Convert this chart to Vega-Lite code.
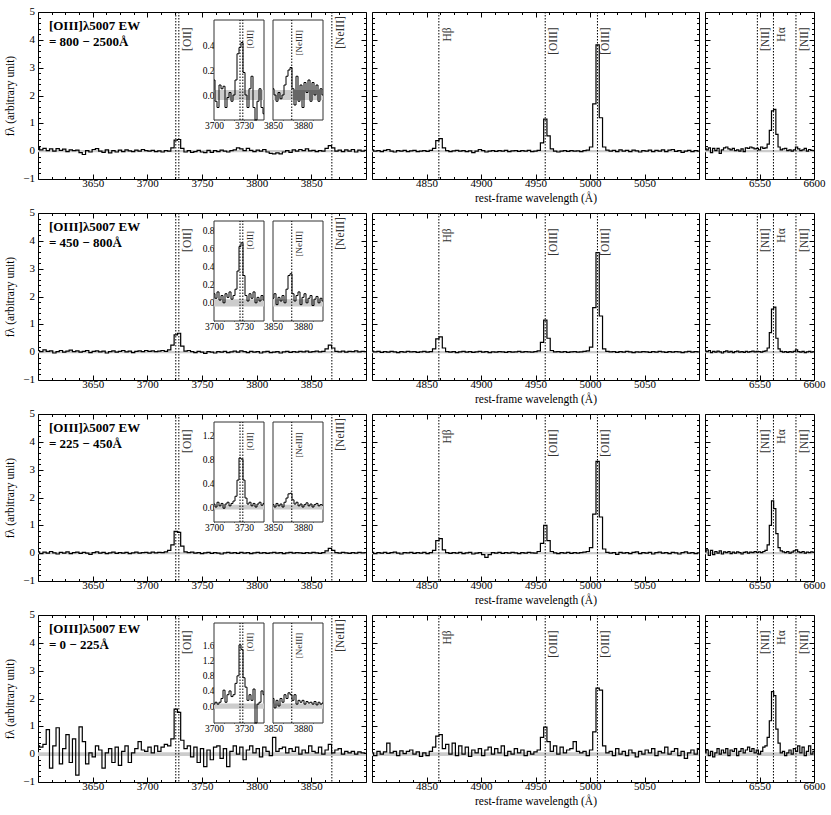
{
"$schema":"https://vega.github.io/schema/vega-lite/v6.json",
"background":"white",
"padding":{"left":4,"top":5,"right":2,"bottom":2},
"config":{"font":"Liberation Serif","view":{"stroke":"black","strokeWidth":1},
"axis":{"zindex":1,"grid":false,"domain":false,"tickColor":"black","labelFont":"Liberation Serif","labelFontSize":11,"labelColor":"black","labelPadding":3,"labelFlush":false,"labelOverlap":false,"titleFont":"Liberation Serif","titleFontSize":11.5,"titleFontWeight":"normal","titleColor":"black"}},
"datasets":{
"yl":[{"v":-1,"t":"−1"},{"v":0,"t":"0"},{"v":1,"t":"1"},{"v":2,"t":"2"},{"v":3,"t":"3"},{"v":4,"t":"4"},{"v":5,"t":"5"}],
"rl":[{"w":3726.03},{"w":3728.82},{"w":3868.76},{"w":4861.33},{"w":4958.91},{"w":5006.84},{"w":6548.05},{"w":6562.8},{"w":6583.45}],
"lb":[{"w":3728.82,"n":"[OII]"},{"w":3868.76,"n":"[NeIII]"},{"w":4861.33,"n":"Hβ"},{"w":4958.91,"n":"[OIII]"},{"w":5006.84,"n":"[OIII]"},{"w":6548.05,"n":"[NII]"},{"w":6562.8,"n":"Hα"},{"w":6583.45,"n":"[NII]"}],
"m1":[{"w":3600,"f":0.14},{"w":3603,"f":0.05},{"w":3606,"f":0.1},{"w":3609,"f":0.02},{"w":3612,"f":0.08},{"w":3615,"f":0},{"w":3618,"f":0.09},{"w":3621,"f":0.03},{"w":3624,"f":0.07},{"w":3627,"f":-0.02},{"w":3630,"f":0.05},{"w":3633,"f":0.02},{"w":3636,"f":0.04},{"w":3639,"f":-0.05},{"w":3642,"f":-0.12},{"w":3645,"f":0.02},{"w":3648,"f":-0.03},{"w":3651,"f":0.06},{"w":3654,"f":0.09},{"w":3657,"f":0},{"w":3660,"f":-0.04},{"w":3663,"f":0.05},{"w":3666,"f":-0.06},{"w":3669,"f":0.02},{"w":3672,"f":-0.03},{"w":3675,"f":0.04},{"w":3678,"f":-0.02},{"w":3681,"f":0.05},{"w":3684,"f":0.01},{"w":3687,"f":-0.02},{"w":3690,"f":0.04},{"w":3693,"f":0},{"w":3696,"f":0.06},{"w":3699,"f":0.02},{"w":3702,"f":0},{"w":3705,"f":0.03},{"w":3708,"f":-0.02},{"w":3711,"f":0.01},{"w":3714,"f":-0.03},{"w":3717,"f":0.02},{"w":3720,"f":0},{"w":3723,"f":0.12},{"w":3726,"f":0.4},{"w":3729,"f":0.42},{"w":3732,"f":0.1},{"w":3735,"f":-0.03},{"w":3738,"f":0.02},{"w":3741,"f":-0.04},{"w":3744,"f":-0.02},{"w":3747,"f":0.03},{"w":3750,"f":-0.03},{"w":3753,"f":-0.05},{"w":3756,"f":0.03},{"w":3759,"f":-0.04},{"w":3762,"f":0.02},{"w":3765,"f":-0.02},{"w":3768,"f":0.04},{"w":3771,"f":0},{"w":3774,"f":-0.03},{"w":3777,"f":0.02},{"w":3780,"f":0.05},{"w":3783,"f":0.12},{"w":3786,"f":0.08},{"w":3789,"f":0.02},{"w":3792,"f":0.1},{"w":3795,"f":0.03},{"w":3798,"f":-0.02},{"w":3801,"f":0.04},{"w":3804,"f":0},{"w":3807,"f":0.06},{"w":3810,"f":-0.03},{"w":3813,"f":-0.08},{"w":3816,"f":-0.1},{"w":3819,"f":-0.06},{"w":3822,"f":-0.1},{"w":3825,"f":-0.03},{"w":3828,"f":0.02},{"w":3831,"f":-0.04},{"w":3834,"f":0.05},{"w":3837,"f":0},{"w":3840,"f":0.06},{"w":3843,"f":0.02},{"w":3846,"f":0.08},{"w":3849,"f":0.01},{"w":3852,"f":0.03},{"w":3855,"f":-0.02},{"w":3858,"f":0.02},{"w":3861,"f":0},{"w":3864,"f":0.1},{"w":3867,"f":0.2},{"w":3870,"f":0.12},{"w":3873,"f":0},{"w":3876,"f":0.04},{"w":3879,"f":-0.02},{"w":3882,"f":0.05},{"w":3885,"f":0},{"w":3888,"f":0.06},{"w":3891,"f":-0.03},{"w":3894,"f":0.04},{"w":3897,"f":0},{"w":3900,"f":0.03},
{"w":4800,"f":0.05},{"w":4803,"f":0},{"w":4806,"f":0.02},{"w":4809,"f":-0.02},{"w":4812,"f":0.03},{"w":4815,"f":0.06},{"w":4818,"f":0},{"w":4821,"f":-0.03},{"w":4824,"f":0.02},{"w":4827,"f":0},{"w":4830,"f":0.03},{"w":4833,"f":-0.02},{"w":4836,"f":0.01},{"w":4839,"f":0.03},{"w":4842,"f":-0.02},{"w":4845,"f":0},{"w":4848,"f":0.02},{"w":4851,"f":-0.01},{"w":4854,"f":0.03},{"w":4857,"f":0.1},{"w":4860,"f":0.38},{"w":4863,"f":0.45},{"w":4866,"f":0.12},{"w":4869,"f":0.02},{"w":4872,"f":-0.02},{"w":4875,"f":0.01},{"w":4878,"f":0.03},{"w":4881,"f":0},{"w":4884,"f":0.02},{"w":4887,"f":-0.02},{"w":4890,"f":0.01},{"w":4893,"f":-0.05},{"w":4896,"f":0},{"w":4899,"f":0.06},{"w":4902,"f":0.02},{"w":4905,"f":-0.03},{"w":4908,"f":0},{"w":4911,"f":0.02},{"w":4914,"f":-0.01},{"w":4917,"f":0.02},{"w":4920,"f":0},{"w":4923,"f":0.03},{"w":4926,"f":-0.02},{"w":4929,"f":0.01},{"w":4932,"f":0.02},{"w":4935,"f":-0.01},{"w":4938,"f":0.02},{"w":4941,"f":0},{"w":4944,"f":0.03},{"w":4947,"f":-0.02},{"w":4950,"f":0},{"w":4953,"f":0.03},{"w":4956,"f":0.3},{"w":4959,"f":1.15},{"w":4962,"f":0.55},{"w":4965,"f":0.08},{"w":4968,"f":0},{"w":4971,"f":-0.03},{"w":4974,"f":0},{"w":4977,"f":0.02},{"w":4980,"f":-0.01},{"w":4983,"f":0.02},{"w":4986,"f":0},{"w":4989,"f":0.01},{"w":4992,"f":-0.02},{"w":4995,"f":0.02},{"w":4998,"f":0.04},{"w":5001,"f":0.15},{"w":5004,"f":1.7},{"w":5007,"f":3.82},{"w":5010,"f":1.2},{"w":5013,"f":0.15},{"w":5016,"f":0.04},{"w":5019,"f":0},{"w":5022,"f":0.03},{"w":5025,"f":-0.02},{"w":5028,"f":0.05},{"w":5031,"f":0},{"w":5034,"f":0.03},{"w":5037,"f":-0.02},{"w":5040,"f":0.04},{"w":5043,"f":0.01},{"w":5046,"f":-0.03},{"w":5049,"f":0.02},{"w":5052,"f":0},{"w":5055,"f":0.04},{"w":5058,"f":-0.02},{"w":5061,"f":0.03},{"w":5064,"f":0},{"w":5067,"f":0.05},{"w":5070,"f":-0.02},{"w":5073,"f":0.04},{"w":5076,"f":0.06},{"w":5079,"f":-0.01},{"w":5082,"f":0.02},{"w":5085,"f":-0.04},{"w":5088,"f":0},{"w":5091,"f":0.03},{"w":5094,"f":-0.02},{"w":5097,"f":0.02},{"w":5100,"f":0},
{"w":6500,"f":0.1},{"w":6502,"f":0.05},{"w":6504,"f":0.12},{"w":6506,"f":-0.05},{"w":6508,"f":0.1},{"w":6510,"f":0.02},{"w":6512,"f":0.1},{"w":6514,"f":-0.08},{"w":6516,"f":0.05},{"w":6518,"f":0.12},{"w":6520,"f":0.15},{"w":6522,"f":0.08},{"w":6524,"f":0.05},{"w":6526,"f":0.1},{"w":6528,"f":0.02},{"w":6530,"f":0.05},{"w":6532,"f":0},{"w":6534,"f":0.08},{"w":6536,"f":-0.02},{"w":6538,"f":0.12},{"w":6540,"f":0.1},{"w":6542,"f":0.15},{"w":6544,"f":0.12},{"w":6546,"f":0.08},{"w":6548,"f":0.1},{"w":6550,"f":0.05},{"w":6552,"f":0.15},{"w":6554,"f":0.1},{"w":6556,"f":0.12},{"w":6558,"f":0.25},{"w":6560,"f":0.75},{"w":6562,"f":1.45},{"w":6564,"f":1.5},{"w":6566,"f":0.6},{"w":6568,"f":0.15},{"w":6570,"f":0.05},{"w":6572,"f":0.08},{"w":6574,"f":0.1},{"w":6576,"f":0.02},{"w":6578,"f":0.05},{"w":6580,"f":0},{"w":6582,"f":0.05},{"w":6584,"f":0.15},{"w":6586,"f":0.08},{"w":6588,"f":0.02},{"w":6590,"f":0.05},{"w":6592,"f":0.1},{"w":6594,"f":0},{"w":6596,"f":0.06},{"w":6598,"f":0.03},{"w":6600,"f":0.02}],
"i1":[{"w":3700,"f":0.12},{"w":3702,"f":-0.05},{"w":3704,"f":-0.1},{"w":3706,"f":0.08},{"w":3708,"f":0.05},{"w":3710,"f":0.07},{"w":3712,"f":-0.1},{"w":3714,"f":-0.02},{"w":3716,"f":0.02},{"w":3718,"f":-0.05},{"w":3720,"f":0},{"w":3722,"f":0.12},{"w":3724,"f":0.33},{"w":3726,"f":0.38},{"w":3728,"f":0.42},{"w":3730,"f":0.18},{"w":3732,"f":0},{"w":3734,"f":-0.1},{"w":3736,"f":0.05},{"w":3738,"f":0.15},{"w":3740,"f":-0.1},{"w":3742,"f":-0.2},{"w":3744,"f":-0.05},{"w":3746,"f":0.05},{"w":3748,"f":-0.1},{"w":3750,"f":-0.15},
{"w":3850,"f":0.05},{"w":3852,"f":0},{"w":3854,"f":-0.05},{"w":3856,"f":0.02},{"w":3858,"f":-0.03},{"w":3860,"f":0},{"w":3862,"f":0.08},{"w":3864,"f":0.15},{"w":3866,"f":0.2},{"w":3868,"f":0.22},{"w":3870,"f":0.05},{"w":3872,"f":-0.08},{"w":3874,"f":0.15},{"w":3876,"f":-0.05},{"w":3878,"f":0.08},{"w":3880,"f":-0.1},{"w":3882,"f":0.1},{"w":3884,"f":0.02},{"w":3886,"f":0.12},{"w":3888,"f":-0.05},{"w":3890,"f":0.1},{"w":3892,"f":0},{"w":3894,"f":0.08},{"w":3896,"f":-0.05},{"w":3898,"f":0.05},{"w":3900,"f":0}],
"m2":[{"w":3600,"f":0.06},{"w":3603,"f":0.02},{"w":3606,"f":0.08},{"w":3609,"f":0.03},{"w":3612,"f":0.05},{"w":3615,"f":-0.03},{"w":3618,"f":0.02},{"w":3621,"f":0.06},{"w":3624,"f":0},{"w":3627,"f":0.04},{"w":3630,"f":0.07},{"w":3633,"f":0.02},{"w":3636,"f":0.05},{"w":3639,"f":0},{"w":3642,"f":0.03},{"w":3645,"f":0.06},{"w":3648,"f":-0.02},{"w":3651,"f":0.03},{"w":3654,"f":0.05},{"w":3657,"f":0.01},{"w":3660,"f":0.04},{"w":3663,"f":-0.03},{"w":3666,"f":0.02},{"w":3669,"f":0.05},{"w":3672,"f":0},{"w":3675,"f":0.03},{"w":3678,"f":0.06},{"w":3681,"f":0.01},{"w":3684,"f":0.04},{"w":3687,"f":-0.02},{"w":3690,"f":0.03},{"w":3693,"f":0.05},{"w":3696,"f":0.02},{"w":3699,"f":0.06},{"w":3702,"f":0.03},{"w":3705,"f":0.05},{"w":3708,"f":0.02},{"w":3711,"f":0.04},{"w":3714,"f":0.06},{"w":3717,"f":0.03},{"w":3720,"f":0.08},{"w":3723,"f":0.25},{"w":3726,"f":0.62},{"w":3729,"f":0.68},{"w":3732,"f":0.22},{"w":3735,"f":0.04},{"w":3738,"f":0.06},{"w":3741,"f":0.02},{"w":3744,"f":-0.02},{"w":3747,"f":0.03},{"w":3750,"f":0},{"w":3753,"f":-0.04},{"w":3756,"f":0.02},{"w":3759,"f":0},{"w":3762,"f":-0.03},{"w":3765,"f":0.02},{"w":3768,"f":0},{"w":3771,"f":0.03},{"w":3774,"f":-0.02},{"w":3777,"f":0.01},{"w":3780,"f":0.04},{"w":3783,"f":0},{"w":3786,"f":0.05},{"w":3789,"f":0.02},{"w":3792,"f":-0.02},{"w":3795,"f":0.03},{"w":3798,"f":0},{"w":3801,"f":0.02},{"w":3804,"f":-0.03},{"w":3807,"f":0.01},{"w":3810,"f":0.03},{"w":3813,"f":-0.02},{"w":3816,"f":0},{"w":3819,"f":0.02},{"w":3822,"f":-0.03},{"w":3825,"f":0.01},{"w":3828,"f":0.03},{"w":3831,"f":-0.01},{"w":3834,"f":0.02},{"w":3837,"f":0},{"w":3840,"f":0.03},{"w":3843,"f":0.01},{"w":3846,"f":0.04},{"w":3849,"f":0},{"w":3852,"f":0.02},{"w":3855,"f":0.04},{"w":3858,"f":0.01},{"w":3861,"f":0.03},{"w":3864,"f":0.12},{"w":3867,"f":0.25},{"w":3870,"f":0.15},{"w":3873,"f":0.03},{"w":3876,"f":0.01},{"w":3879,"f":0.04},{"w":3882,"f":0},{"w":3885,"f":0.03},{"w":3888,"f":0.02},{"w":3891,"f":0.05},{"w":3894,"f":0.01},{"w":3897,"f":0.03},{"w":3900,"f":0.02},
{"w":4800,"f":0.04},{"w":4803,"f":0.01},{"w":4806,"f":0.03},{"w":4809,"f":-0.01},{"w":4812,"f":0.02},{"w":4815,"f":0},{"w":4818,"f":0.03},{"w":4821,"f":0.01},{"w":4824,"f":-0.02},{"w":4827,"f":0.02},{"w":4830,"f":0},{"w":4833,"f":0.03},{"w":4836,"f":0.01},{"w":4839,"f":0.02},{"w":4842,"f":-0.01},{"w":4845,"f":0.01},{"w":4848,"f":0.03},{"w":4851,"f":0},{"w":4854,"f":0.02},{"w":4857,"f":0.12},{"w":4860,"f":0.48},{"w":4863,"f":0.55},{"w":4866,"f":0.15},{"w":4869,"f":0.02},{"w":4872,"f":0},{"w":4875,"f":0.02},{"w":4878,"f":-0.02},{"w":4881,"f":0.01},{"w":4884,"f":0.03},{"w":4887,"f":0},{"w":4890,"f":0.02},{"w":4893,"f":-0.01},{"w":4896,"f":0.01},{"w":4899,"f":0.03},{"w":4902,"f":0},{"w":4905,"f":0.02},{"w":4908,"f":-0.02},{"w":4911,"f":0.01},{"w":4914,"f":0},{"w":4917,"f":0.02},{"w":4920,"f":0.01},{"w":4923,"f":-0.01},{"w":4926,"f":0.02},{"w":4929,"f":0},{"w":4932,"f":0.01},{"w":4935,"f":0.03},{"w":4938,"f":0},{"w":4941,"f":0.02},{"w":4944,"f":0.01},{"w":4947,"f":0},{"w":4950,"f":0.02},{"w":4953,"f":0.05},{"w":4956,"f":0.35},{"w":4959,"f":1.15},{"w":4962,"f":0.5},{"w":4965,"f":0.06},{"w":4968,"f":0.01},{"w":4971,"f":0.02},{"w":4974,"f":0},{"w":4977,"f":0.02},{"w":4980,"f":-0.01},{"w":4983,"f":0.01},{"w":4986,"f":0.02},{"w":4989,"f":0},{"w":4992,"f":0.01},{"w":4995,"f":0.03},{"w":4998,"f":0.05},{"w":5001,"f":0.18},{"w":5004,"f":1.6},{"w":5007,"f":3.58},{"w":5010,"f":1.3},{"w":5013,"f":0.12},{"w":5016,"f":0.03},{"w":5019,"f":0.01},{"w":5022,"f":0.02},{"w":5025,"f":-0.01},{"w":5028,"f":0.02},{"w":5031,"f":0},{"w":5034,"f":0.03},{"w":5037,"f":0.01},{"w":5040,"f":-0.02},{"w":5043,"f":0.01},{"w":5046,"f":0},{"w":5049,"f":0.02},{"w":5052,"f":0.01},{"w":5055,"f":-0.01},{"w":5058,"f":0.02},{"w":5061,"f":0},{"w":5064,"f":0.03},{"w":5067,"f":0.01},{"w":5070,"f":-0.01},{"w":5073,"f":0.02},{"w":5076,"f":0},{"w":5079,"f":0.02},{"w":5082,"f":0.01},{"w":5085,"f":-0.02},{"w":5088,"f":0.01},{"w":5091,"f":0.03},{"w":5094,"f":0},{"w":5097,"f":0.02},{"w":5100,"f":0.01},
{"w":6500,"f":0.05},{"w":6502,"f":0.02},{"w":6504,"f":0.06},{"w":6506,"f":-0.02},{"w":6508,"f":0.03},{"w":6510,"f":0},{"w":6512,"f":0.04},{"w":6514,"f":0.01},{"w":6516,"f":-0.03},{"w":6518,"f":0.02},{"w":6520,"f":0.05},{"w":6522,"f":0},{"w":6524,"f":0.03},{"w":6526,"f":-0.02},{"w":6528,"f":0.02},{"w":6530,"f":0.04},{"w":6532,"f":0},{"w":6534,"f":0.02},{"w":6536,"f":-0.01},{"w":6538,"f":0.03},{"w":6540,"f":0},{"w":6542,"f":0.02},{"w":6544,"f":0.04},{"w":6546,"f":0.01},{"w":6548,"f":0.03},{"w":6550,"f":0.02},{"w":6552,"f":0},{"w":6554,"f":0.03},{"w":6556,"f":0.05},{"w":6558,"f":0.15},{"w":6560,"f":0.7},{"w":6562,"f":1.55},{"w":6564,"f":1.62},{"w":6566,"f":0.5},{"w":6568,"f":0.12},{"w":6570,"f":0.03},{"w":6572,"f":0},{"w":6574,"f":0.02},{"w":6576,"f":-0.01},{"w":6578,"f":0.02},{"w":6580,"f":0},{"w":6582,"f":0.03},{"w":6584,"f":0.08},{"w":6586,"f":0.02},{"w":6588,"f":0},{"w":6590,"f":0.03},{"w":6592,"f":-0.02},{"w":6594,"f":0.01},{"w":6596,"f":0.03},{"w":6598,"f":0},{"w":6600,"f":0.02}],
"i2":[{"w":3700,"f":0.1},{"w":3702,"f":0.05},{"w":3704,"f":0.12},{"w":3706,"f":0.03},{"w":3708,"f":0.08},{"w":3710,"f":0},{"w":3712,"f":0.1},{"w":3714,"f":0.06},{"w":3716,"f":0.12},{"w":3718,"f":0.04},{"w":3720,"f":0.08},{"w":3722,"f":0.15},{"w":3724,"f":0.35},{"w":3726,"f":0.62},{"w":3728,"f":0.66},{"w":3730,"f":0.3},{"w":3732,"f":0.08},{"w":3734,"f":0.02},{"w":3736,"f":0.1},{"w":3738,"f":0.05},{"w":3740,"f":0.12},{"w":3742,"f":0},{"w":3744,"f":0.06},{"w":3746,"f":0.02},{"w":3748,"f":0.08},{"w":3750,"f":0.03},
{"w":3850,"f":0.05},{"w":3852,"f":0.1},{"w":3854,"f":-0.02},{"w":3856,"f":0.06},{"w":3858,"f":0.02},{"w":3860,"f":0.08},{"w":3862,"f":0},{"w":3864,"f":0.15},{"w":3866,"f":0.3},{"w":3868,"f":0.32},{"w":3870,"f":0.1},{"w":3872,"f":0.02},{"w":3874,"f":0.08},{"w":3876,"f":0.12},{"w":3878,"f":-0.02},{"w":3880,"f":0.06},{"w":3882,"f":0.1},{"w":3884,"f":0},{"w":3886,"f":0.05},{"w":3888,"f":0.08},{"w":3890,"f":-0.03},{"w":3892,"f":0.04},{"w":3894,"f":0.07},{"w":3896,"f":0},{"w":3898,"f":0.05},{"w":3900,"f":0.02}],
"m3":[{"w":3600,"f":0.05},{"w":3603,"f":-0.02},{"w":3606,"f":0.04},{"w":3609,"f":0},{"w":3612,"f":0.06},{"w":3615,"f":0.01},{"w":3618,"f":-0.03},{"w":3621,"f":0.03},{"w":3624,"f":0},{"w":3627,"f":0.05},{"w":3630,"f":-0.02},{"w":3633,"f":0.02},{"w":3636,"f":0.04},{"w":3639,"f":-0.01},{"w":3642,"f":0.03},{"w":3645,"f":0},{"w":3648,"f":-0.04},{"w":3651,"f":0.02},{"w":3654,"f":0.05},{"w":3657,"f":0},{"w":3660,"f":0.03},{"w":3663,"f":-0.02},{"w":3666,"f":0.01},{"w":3669,"f":0.04},{"w":3672,"f":-0.01},{"w":3675,"f":0.02},{"w":3678,"f":0},{"w":3681,"f":0.03},{"w":3684,"f":-0.02},{"w":3687,"f":0.01},{"w":3690,"f":0.04},{"w":3693,"f":0},{"w":3696,"f":0.02},{"w":3699,"f":0.03},{"w":3702,"f":0},{"w":3705,"f":0.04},{"w":3708,"f":0.01},{"w":3711,"f":0.03},{"w":3714,"f":0.02},{"w":3717,"f":0.05},{"w":3720,"f":0.1},{"w":3723,"f":0.3},{"w":3726,"f":0.78},{"w":3729,"f":0.75},{"w":3732,"f":0.25},{"w":3735,"f":0.05},{"w":3738,"f":0.02},{"w":3741,"f":0.04},{"w":3744,"f":0},{"w":3747,"f":0.02},{"w":3750,"f":-0.02},{"w":3753,"f":0.01},{"w":3756,"f":0.03},{"w":3759,"f":-0.01},{"w":3762,"f":0.02},{"w":3765,"f":0},{"w":3768,"f":-0.03},{"w":3771,"f":0.01},{"w":3774,"f":0.03},{"w":3777,"f":0},{"w":3780,"f":0.02},{"w":3783,"f":-0.01},{"w":3786,"f":0.03},{"w":3789,"f":0},{"w":3792,"f":0.02},{"w":3795,"f":-0.02},{"w":3798,"f":0.01},{"w":3801,"f":0.03},{"w":3804,"f":0},{"w":3807,"f":0.02},{"w":3810,"f":-0.01},{"w":3813,"f":0.01},{"w":3816,"f":0.03},{"w":3819,"f":0},{"w":3822,"f":0.02},{"w":3825,"f":-0.02},{"w":3828,"f":0.01},{"w":3831,"f":0.03},{"w":3834,"f":0},{"w":3837,"f":0.02},{"w":3840,"f":0.01},{"w":3843,"f":-0.01},{"w":3846,"f":0.02},{"w":3849,"f":0},{"w":3852,"f":0.03},{"w":3855,"f":0.01},{"w":3858,"f":-0.01},{"w":3861,"f":0.02},{"w":3864,"f":0.08},{"w":3867,"f":0.17},{"w":3870,"f":0.1},{"w":3873,"f":0.02},{"w":3876,"f":0},{"w":3879,"f":0.03},{"w":3882,"f":0.01},{"w":3885,"f":-0.01},{"w":3888,"f":0.02},{"w":3891,"f":0},{"w":3894,"f":0.03},{"w":3897,"f":0.01},{"w":3900,"f":0.02},
{"w":4800,"f":0.03},{"w":4803,"f":-0.02},{"w":4806,"f":0.02},{"w":4809,"f":0},{"w":4812,"f":0.03},{"w":4815,"f":-0.01},{"w":4818,"f":0.02},{"w":4821,"f":0.04},{"w":4824,"f":0},{"w":4827,"f":-0.03},{"w":4830,"f":0.02},{"w":4833,"f":0.01},{"w":4836,"f":0.03},{"w":4839,"f":-0.01},{"w":4842,"f":0.02},{"w":4845,"f":0},{"w":4848,"f":0.03},{"w":4851,"f":-0.02},{"w":4854,"f":0.02},{"w":4857,"f":0.1},{"w":4860,"f":0.45},{"w":4863,"f":0.52},{"w":4866,"f":0.12},{"w":4869,"f":0.02},{"w":4872,"f":-0.01},{"w":4875,"f":0.02},{"w":4878,"f":0},{"w":4881,"f":0.03},{"w":4884,"f":-0.02},{"w":4887,"f":0.01},{"w":4890,"f":0.03},{"w":4893,"f":-0.03},{"w":4896,"f":0},{"w":4899,"f":0.02},{"w":4902,"f":-0.05},{"w":4905,"f":-0.15},{"w":4908,"f":-0.05},{"w":4911,"f":0.02},{"w":4914,"f":0},{"w":4917,"f":0.03},{"w":4920,"f":-0.01},{"w":4923,"f":0.02},{"w":4926,"f":0},{"w":4929,"f":0.03},{"w":4932,"f":0.01},{"w":4935,"f":-0.02},{"w":4938,"f":0.02},{"w":4941,"f":0},{"w":4944,"f":0.03},{"w":4947,"f":0.01},{"w":4950,"f":0},{"w":4953,"f":0.06},{"w":4956,"f":0.35},{"w":4959,"f":1},{"w":4962,"f":0.45},{"w":4965,"f":0.06},{"w":4968,"f":0.01},{"w":4971,"f":-0.02},{"w":4974,"f":0.02},{"w":4977,"f":0},{"w":4980,"f":0.03},{"w":4983,"f":-0.01},{"w":4986,"f":0.02},{"w":4989,"f":0},{"w":4992,"f":0.02},{"w":4995,"f":0.04},{"w":4998,"f":0.06},{"w":5001,"f":0.2},{"w":5004,"f":1.4},{"w":5007,"f":3.3},{"w":5010,"f":1.3},{"w":5013,"f":0.15},{"w":5016,"f":0.03},{"w":5019,"f":0},{"w":5022,"f":0.02},{"w":5025,"f":-0.04},{"w":5028,"f":0.03},{"w":5031,"f":0},{"w":5034,"f":0.02},{"w":5037,"f":-0.02},{"w":5040,"f":0.03},{"w":5043,"f":0.05},{"w":5046,"f":-0.02},{"w":5049,"f":0.02},{"w":5052,"f":0},{"w":5055,"f":0.03},{"w":5058,"f":-0.03},{"w":5061,"f":0.02},{"w":5064,"f":0.04},{"w":5067,"f":0},{"w":5070,"f":0.02},{"w":5073,"f":-0.02},{"w":5076,"f":0.03},{"w":5079,"f":0.01},{"w":5082,"f":-0.03},{"w":5085,"f":0.02},{"w":5088,"f":0.05},{"w":5091,"f":0},{"w":5094,"f":0.02},{"w":5097,"f":-0.02},{"w":5100,"f":0.01},
{"w":6500,"f":0.05},{"w":6502,"f":0.12},{"w":6504,"f":-0.08},{"w":6506,"f":0.1},{"w":6508,"f":-0.05},{"w":6510,"f":0.06},{"w":6512,"f":0},{"w":6514,"f":0.08},{"w":6516,"f":-0.03},{"w":6518,"f":0.05},{"w":6520,"f":0.02},{"w":6522,"f":0.06},{"w":6524,"f":-0.02},{"w":6526,"f":0.04},{"w":6528,"f":0},{"w":6530,"f":0.05},{"w":6532,"f":0.02},{"w":6534,"f":-0.03},{"w":6536,"f":0.03},{"w":6538,"f":0.05},{"w":6540,"f":0},{"w":6542,"f":0.04},{"w":6544,"f":0.02},{"w":6546,"f":0.06},{"w":6548,"f":0.03},{"w":6550,"f":0.05},{"w":6552,"f":0.02},{"w":6554,"f":0.06},{"w":6556,"f":0.1},{"w":6558,"f":0.3},{"w":6560,"f":1},{"w":6562,"f":1.88},{"w":6564,"f":1.6},{"w":6566,"f":0.7},{"w":6568,"f":0.2},{"w":6570,"f":0.08},{"w":6572,"f":0.05},{"w":6574,"f":0.02},{"w":6576,"f":0.06},{"w":6578,"f":0},{"w":6580,"f":0.04},{"w":6582,"f":0.08},{"w":6584,"f":0.12},{"w":6586,"f":0.05},{"w":6588,"f":0.02},{"w":6590,"f":0.06},{"w":6592,"f":0},{"w":6594,"f":0.04},{"w":6596,"f":0.02},{"w":6598,"f":0.05},{"w":6600,"f":0.03}],
"i3":[{"w":3700,"f":0.05},{"w":3702,"f":0},{"w":3704,"f":0.08},{"w":3706,"f":0.02},{"w":3708,"f":0.06},{"w":3710,"f":-0.02},{"w":3712,"f":0.05},{"w":3714,"f":0.08},{"w":3716,"f":0.02},{"w":3718,"f":0.06},{"w":3720,"f":0.1},{"w":3722,"f":0.18},{"w":3724,"f":0.45},{"w":3726,"f":0.82},{"w":3728,"f":0.8},{"w":3730,"f":0.45},{"w":3732,"f":0.15},{"w":3734,"f":0.05},{"w":3736,"f":0.08},{"w":3738,"f":0.02},{"w":3740,"f":0.06},{"w":3742,"f":0},{"w":3744,"f":0.05},{"w":3746,"f":0.08},{"w":3748,"f":0.03},{"w":3750,"f":0.06},
{"w":3850,"f":0.04},{"w":3852,"f":0},{"w":3854,"f":0.06},{"w":3856,"f":0.02},{"w":3858,"f":0.05},{"w":3860,"f":0},{"w":3862,"f":0.08},{"w":3864,"f":0.15},{"w":3866,"f":0.22},{"w":3868,"f":0.23},{"w":3870,"f":0.12},{"w":3872,"f":0.05},{"w":3874,"f":0.08},{"w":3876,"f":0.02},{"w":3878,"f":0.05},{"w":3880,"f":0},{"w":3882,"f":0.04},{"w":3884,"f":0.07},{"w":3886,"f":0.02},{"w":3888,"f":0.05},{"w":3890,"f":0},{"w":3892,"f":0.04},{"w":3894,"f":0.06},{"w":3896,"f":0.02},{"w":3898,"f":0.04},{"w":3900,"f":0.03}],
"m4":[{"w":3600,"f":0.3},{"w":3603,"f":0.25},{"w":3606,"f":0.35},{"w":3609,"f":0.88},{"w":3612,"f":-0.5},{"w":3615,"f":0.3},{"w":3618,"f":0.95},{"w":3621,"f":-0.35},{"w":3624,"f":0.2},{"w":3627,"f":0.7},{"w":3630,"f":-0.3},{"w":3633,"f":0.55},{"w":3636,"f":-0.75},{"w":3639,"f":0.98},{"w":3642,"f":0.45},{"w":3645,"f":-0.35},{"w":3648,"f":0.05},{"w":3651,"f":-0.1},{"w":3654,"f":0.3},{"w":3657,"f":0.15},{"w":3660,"f":-0.5},{"w":3663,"f":0.05},{"w":3666,"f":0.2},{"w":3669,"f":-0.3},{"w":3672,"f":0.25},{"w":3675,"f":-0.4},{"w":3678,"f":0.1},{"w":3681,"f":0.3},{"w":3684,"f":-0.3},{"w":3687,"f":0.05},{"w":3690,"f":0.2},{"w":3693,"f":0.45},{"w":3696,"f":0.15},{"w":3699,"f":0.1},{"w":3702,"f":0.25},{"w":3705,"f":0.05},{"w":3708,"f":0.3},{"w":3711,"f":0.1},{"w":3714,"f":0.25},{"w":3717,"f":0.35},{"w":3720,"f":0.3},{"w":3723,"f":0.55},{"w":3726,"f":1.62},{"w":3729,"f":1.5},{"w":3732,"f":0.5},{"w":3735,"f":0.2},{"w":3738,"f":0.3},{"w":3741,"f":-0.1},{"w":3744,"f":0.25},{"w":3747,"f":-0.3},{"w":3750,"f":0.2},{"w":3753,"f":-0.45},{"w":3756,"f":0.15},{"w":3759,"f":-0.2},{"w":3762,"f":0.25},{"w":3765,"f":0.3},{"w":3768,"f":-0.15},{"w":3771,"f":0.2},{"w":3774,"f":-0.45},{"w":3777,"f":0.1},{"w":3780,"f":0.3},{"w":3783,"f":0},{"w":3786,"f":0.25},{"w":3789,"f":-0.2},{"w":3792,"f":0.15},{"w":3795,"f":0.3},{"w":3798,"f":0.05},{"w":3801,"f":0.2},{"w":3804,"f":-0.1},{"w":3807,"f":0.25},{"w":3810,"f":0.1},{"w":3813,"f":-0.05},{"w":3816,"f":0.6},{"w":3819,"f":0.1},{"w":3822,"f":0.2},{"w":3825,"f":0.25},{"w":3828,"f":0.05},{"w":3831,"f":0.2},{"w":3834,"f":0.1},{"w":3837,"f":0.25},{"w":3840,"f":0},{"w":3843,"f":0.15},{"w":3846,"f":0.05},{"w":3849,"f":0.3},{"w":3852,"f":0.1},{"w":3855,"f":0.05},{"w":3858,"f":0.25},{"w":3861,"f":0},{"w":3864,"f":0.15},{"w":3867,"f":0.35},{"w":3870,"f":0.05},{"w":3873,"f":0.15},{"w":3876,"f":0.2},{"w":3879,"f":0},{"w":3882,"f":0.1},{"w":3885,"f":0.05},{"w":3888,"f":0.1},{"w":3891,"f":0},{"w":3894,"f":0.08},{"w":3897,"f":0.05},{"w":3900,"f":0.03},
{"w":4800,"f":0.05},{"w":4803,"f":-0.05},{"w":4806,"f":0.1},{"w":4809,"f":0},{"w":4812,"f":0.08},{"w":4815,"f":0.4},{"w":4818,"f":0.05},{"w":4821,"f":0.1},{"w":4824,"f":-0.05},{"w":4827,"f":0.12},{"w":4830,"f":0.02},{"w":4833,"f":0.1},{"w":4836,"f":0.15},{"w":4839,"f":0},{"w":4842,"f":0.08},{"w":4845,"f":-0.08},{"w":4848,"f":0.05},{"w":4851,"f":-0.05},{"w":4854,"f":0.1},{"w":4857,"f":0.25},{"w":4860,"f":0.65},{"w":4863,"f":0.7},{"w":4866,"f":0.2},{"w":4869,"f":0.35},{"w":4872,"f":0},{"w":4875,"f":0.4},{"w":4878,"f":-0.05},{"w":4881,"f":0.3},{"w":4884,"f":0},{"w":4887,"f":0.25},{"w":4890,"f":-0.08},{"w":4893,"f":0.15},{"w":4896,"f":0.05},{"w":4899,"f":0.2},{"w":4902,"f":-0.05},{"w":4905,"f":0.15},{"w":4908,"f":0.25},{"w":4911,"f":0},{"w":4914,"f":0.2},{"w":4917,"f":0.05},{"w":4920,"f":0.3},{"w":4923,"f":-0.05},{"w":4926,"f":0.1},{"w":4929,"f":0},{"w":4932,"f":0.2},{"w":4935,"f":0.05},{"w":4938,"f":0.15},{"w":4941,"f":-0.05},{"w":4944,"f":0.1},{"w":4947,"f":0},{"w":4950,"f":0.08},{"w":4953,"f":0.15},{"w":4956,"f":0.6},{"w":4959,"f":0.97},{"w":4962,"f":0.45},{"w":4965,"f":0.1},{"w":4968,"f":0.3},{"w":4971,"f":0},{"w":4974,"f":0.25},{"w":4977,"f":0.05},{"w":4980,"f":0.15},{"w":4983,"f":0.2},{"w":4986,"f":0.45},{"w":4989,"f":0.1},{"w":4992,"f":0.05},{"w":4995,"f":0.1},{"w":4998,"f":-0.05},{"w":5001,"f":0.15},{"w":5004,"f":0.8},{"w":5007,"f":2.37},{"w":5010,"f":2.3},{"w":5013,"f":0.3},{"w":5016,"f":0.05},{"w":5019,"f":0.1},{"w":5022,"f":-0.05},{"w":5025,"f":0.2},{"w":5028,"f":0},{"w":5031,"f":0.1},{"w":5034,"f":-0.05},{"w":5037,"f":0.15},{"w":5040,"f":0.05},{"w":5043,"f":-0.1},{"w":5046,"f":0.1},{"w":5049,"f":0},{"w":5052,"f":0.15},{"w":5055,"f":0.05},{"w":5058,"f":0.2},{"w":5061,"f":-0.05},{"w":5064,"f":0.1},{"w":5067,"f":0.05},{"w":5070,"f":0.25},{"w":5073,"f":0},{"w":5076,"f":0.1},{"w":5079,"f":0.2},{"w":5082,"f":-0.05},{"w":5085,"f":0.1},{"w":5088,"f":-0.15},{"w":5091,"f":0.05},{"w":5094,"f":0.15},{"w":5097,"f":0},{"w":5100,"f":0.2},
{"w":6500,"f":0.05},{"w":6502,"f":0.15},{"w":6504,"f":-0.05},{"w":6506,"f":0.1},{"w":6508,"f":-0.1},{"w":6510,"f":0.05},{"w":6512,"f":0.2},{"w":6514,"f":0},{"w":6516,"f":0.15},{"w":6518,"f":0.05},{"w":6520,"f":0.2},{"w":6522,"f":-0.05},{"w":6524,"f":0.15},{"w":6526,"f":0.1},{"w":6528,"f":0.2},{"w":6530,"f":-0.05},{"w":6532,"f":0.1},{"w":6534,"f":0.2},{"w":6536,"f":0.05},{"w":6538,"f":0.15},{"w":6540,"f":0.25},{"w":6542,"f":0.1},{"w":6544,"f":0.2},{"w":6546,"f":0.05},{"w":6548,"f":0.15},{"w":6550,"f":0},{"w":6552,"f":0.1},{"w":6554,"f":0.25},{"w":6556,"f":0.3},{"w":6558,"f":0.6},{"w":6560,"f":1.2},{"w":6562,"f":2.25},{"w":6564,"f":2.1},{"w":6566,"f":0.9},{"w":6568,"f":0.4},{"w":6570,"f":0.05},{"w":6572,"f":0.1},{"w":6574,"f":-0.05},{"w":6576,"f":0.05},{"w":6578,"f":0.15},{"w":6580,"f":0},{"w":6582,"f":0.2},{"w":6584,"f":0.1},{"w":6586,"f":0.3},{"w":6588,"f":0.05},{"w":6590,"f":0.25},{"w":6592,"f":-0.05},{"w":6594,"f":0.1},{"w":6596,"f":0.3},{"w":6598,"f":0},{"w":6600,"f":0.1}],
"i4":[{"w":3700,"f":0.05},{"w":3702,"f":0.1},{"w":3704,"f":0.05},{"w":3706,"f":0.1},{"w":3708,"f":0.2},{"w":3710,"f":0.42},{"w":3712,"f":0.1},{"w":3714,"f":0.3},{"w":3716,"f":0.4},{"w":3718,"f":0.25},{"w":3720,"f":0.3},{"w":3722,"f":0.6},{"w":3724,"f":0.8},{"w":3726,"f":1.62},{"w":3728,"f":1.5},{"w":3730,"f":0.75},{"w":3732,"f":0.5},{"w":3734,"f":0.15},{"w":3736,"f":0.3},{"w":3738,"f":0.15},{"w":3740,"f":0.45},{"w":3742,"f":-0.5},{"w":3744,"f":0.05},{"w":3746,"f":0.1},{"w":3748,"f":0.4},{"w":3750,"f":0.3},
{"w":3850,"f":0.2},{"w":3852,"f":-0.05},{"w":3854,"f":0.15},{"w":3856,"f":0},{"w":3858,"f":0.2},{"w":3860,"f":0.1},{"w":3862,"f":0.3},{"w":3864,"f":0.2},{"w":3866,"f":0.35},{"w":3868,"f":0.3},{"w":3870,"f":0.15},{"w":3872,"f":0.3},{"w":3874,"f":0.05},{"w":3876,"f":0.15},{"w":3878,"f":0.1},{"w":3880,"f":0.15},{"w":3882,"f":0.05},{"w":3884,"f":0.12},{"w":3886,"f":0.08},{"w":3888,"f":0.1},{"w":3890,"f":0.05},{"w":3892,"f":0.12},{"w":3894,"f":0.03},{"w":3896,"f":0.1},{"w":3898,"f":0.05},{"w":3900,"f":0.08}]
},
"columns":3,
"spacing":{"row":34,"column":6},
"bounds":"flush",
"concat":[
{"width":328,"height":167,"resolve":{"scale":{"x":"independent","y":"independent"}},"layer":[
{"data":{"values":[{}]},"mark":{"type":"rect","color":"#cccccc"},"encoding":{"x":{"datum":3600,"type":"quantitative","scale":{"domain":[3600,3900],"nice":false,"zero":false},"axis":null},"x2":{"datum":3900},"y":{"datum":-0.04,"type":"quantitative","scale":{"domain":[-1,5],"nice":false,"zero":false},"axis":null},"y2":{"datum":0.04}}},
{"data":{"name":"rl"},"transform":[{"filter":{"field":"w","range":[3600,3900]}}],"mark":{"type":"rule","color":"black","strokeDash":[1.5,1.5]},"encoding":{"x":{"field":"w","type":"quantitative","scale":{"domain":[3600,3900],"nice":false,"zero":false},"axis":null}}},
{"data":{"name":"m1"},"transform":[{"filter":{"field":"w","range":[3600,3900]}}],"mark":{"type":"line","interpolate":"step","color":"black","strokeWidth":1.2,"clip":true},"encoding":{"x":{"field":"w","type":"quantitative","scale":{"domain":[3600,3900],"nice":false,"zero":false},"axis":{"orient":"bottom","labelOverlap":false,"values":[3612.5,3625,3637.5,3650,3662.5,3675,3687.5,3700,3712.5,3725,3737.5,3750,3762.5,3775,3787.5,3800,3812.5,3825,3837.5,3850,3862.5,3875,3887.5],"labelExpr":"datum.value % 50 == 0 ? '' + datum.value : ''","tickSize":{"condition":{"test":"datum.value % 50 == 0","value":-5},"value":-2.5},"title":null}},"y":{"field":"f","type":"quantitative","scale":{"domain":[-1,5],"nice":false,"zero":false},"axis":{"orient":"left","values":[-1,0,1,2,3,4,5],"labels":false,"tickSize":-5,"title":"fλ (arbitrary unit)","titlePadding":22}}}},
{"data":{"name":"yl"},"mark":{"type":"text","align":"right","baseline":"middle","dx":-3,"fontSize":11,"color":"black"},"encoding":{"x":{"datum":3600,"type":"quantitative","scale":{"domain":[3600,3900],"nice":false,"zero":false},"axis":null},"y":{"field":"v","type":"quantitative","scale":{"domain":[-1,5],"nice":false,"zero":false},"axis":null},"text":{"field":"t"}}},
{"data":{"name":"m1"},"transform":[{"filter":{"field":"w","range":[3600,3900]}}],"mark":{"type":"point","opacity":0,"clip":true},"encoding":{"x":{"field":"w","type":"quantitative","scale":{"domain":[3600,3900],"nice":false,"zero":false},"axis":null},"y":{"field":"f","type":"quantitative","scale":{"domain":[-1,5],"nice":false,"zero":false},"axis":{"orient":"left","values":[-0.8,-0.6,-0.4,-0.2,0.2,0.4,0.6,0.8,1.2,1.4,1.6,1.8,2.2,2.4,2.6,2.8,3.2,3.4,3.6,3.8,4.2,4.4,4.6,4.8],"labels":false,"tickSize":-2.5,"title":null}}}},
{"data":{"name":"m1"},"transform":[{"filter":{"field":"w","range":[3600,3900]}}],"mark":{"type":"point","opacity":0,"clip":true},"encoding":{"x":{"field":"w","type":"quantitative","scale":{"domain":[3600,3900],"nice":false,"zero":false},"axis":{"orient":"top","values":[3612.5,3625,3637.5,3650,3662.5,3675,3687.5,3700,3712.5,3725,3737.5,3750,3762.5,3775,3787.5,3800,3812.5,3825,3837.5,3850,3862.5,3875,3887.5],"labels":false,"tickSize":{"condition":{"test":"datum.value % 50 == 0","value":-5},"value":-2.5},"title":null}},"y":{"field":"f","type":"quantitative","scale":{"domain":[-1,5],"nice":false,"zero":false},"axis":{"orient":"right","values":[-1,-0.8,-0.6,-0.4,-0.2,0,0.2,0.4,0.6,0.8,1,1.2,1.4,1.6,1.8,2,2.2,2.4,2.6,2.8,3,3.2,3.4,3.6,3.8,4,4.2,4.4,4.6,4.8,5],"labels":false,"tickSize":{"condition":{"test":"datum.value % 1 == 0","value":-5},"value":-2.5},"title":null}}}},
{"data":{"name":"lb"},"transform":[{"filter":{"field":"w","range":[3600,3800]}}],"mark":{"type":"text","angle":270,"align":"right","baseline":"top","dy":3,"fontSize":11.5,"color":"#333"},"encoding":{"x":{"field":"w","type":"quantitative","scale":{"domain":[3600,3900],"nice":false,"zero":false},"axis":null},"y":{"datum":4.45,"type":"quantitative","scale":{"domain":[-1,5],"nice":false,"zero":false},"axis":null},"text":{"field":"n"}}},
{"data":{"name":"lb"},"transform":[{"filter":{"field":"w","range":[3800,3900]}}],"mark":{"type":"text","angle":270,"align":"right","baseline":"top","dy":3,"fontSize":11.5,"color":"#333"},"encoding":{"x":{"field":"w","type":"quantitative","scale":{"domain":[3600,3900],"nice":false,"zero":false},"axis":null},"y":{"datum":4.85,"type":"quantitative","scale":{"domain":[-1,5],"nice":false,"zero":false},"axis":null},"text":{"field":"n"}}},
{"data":{"values":[{}]},"mark":{"type":"text","text":["[OIII]λ5007 EW","= 800 − 2500Å"],"align":"left","baseline":"top","fontWeight":"bold","fontSize":13,"lineHeight":16},"encoding":{"x":{"datum":3610,"type":"quantitative","scale":{"domain":[3600,3900],"nice":false,"zero":false},"axis":null},"y":{"datum":4.72,"type":"quantitative","scale":{"domain":[-1,5],"nice":false,"zero":false},"axis":null}}},
{"data":{"values":[{}]},"mark":{"type":"rect","fill":"white","stroke":"#333","strokeWidth":1},"encoding":{"x":{"datum":3700,"type":"quantitative","scale":{"domain":[3700,3750],"range":[176,226],"nice":false,"zero":false},"axis":null},"x2":{"datum":3750},"y":{"datum":-0.2,"type":"quantitative","scale":{"domain":[-0.2,0.6],"range":[108,8],"nice":false,"zero":false},"axis":null},"y2":{"datum":0.6}}},
{"data":{"values":[{}]},"mark":{"type":"rect","color":"#cccccc"},"encoding":{"x":{"datum":3700,"type":"quantitative","scale":{"domain":[3700,3750],"range":[176,226],"nice":false,"zero":false},"axis":null},"x2":{"datum":3750},"y":{"datum":-0.04,"type":"quantitative","scale":{"domain":[-0.2,0.6],"range":[108,8],"nice":false,"zero":false},"axis":null},"y2":{"datum":0.04}}},
{"data":{"name":"rl"},"transform":[{"filter":{"field":"w","range":[3700,3750]}}],"mark":{"type":"rule","color":"black","strokeDash":[1.5,1.5]},"encoding":{"x":{"field":"w","type":"quantitative","scale":{"domain":[3700,3750],"range":[176,226],"nice":false,"zero":false},"axis":null},"y":{"datum":-0.2,"type":"quantitative","scale":{"domain":[-0.2,0.6],"range":[108,8],"nice":false,"zero":false},"axis":null},"y2":{"datum":0.6}}},
{"data":{"name":"i1"},"transform":[{"filter":{"field":"w","range":[3700,3750]}}],"mark":{"type":"line","interpolate":"step","color":"black","strokeWidth":1},"encoding":{"x":{"field":"w","type":"quantitative","scale":{"domain":[3700,3750],"range":[176,226],"nice":false,"zero":false},"axis":{"orient":"bottom","offset":-59,"labelOverlap":false,"values":[3700,3710,3720,3730,3740],"labelExpr":"datum.value == 3700 || datum.value == 3730 ? '' + datum.value : ''","tickSize":-3,"labelFontSize":9.5,"title":null}},"y":{"field":"f","type":"quantitative","scale":{"domain":[-0.2,0.6],"range":[108,8],"nice":false,"zero":false,"clamp":true},"axis":{"orient":"left","offset":-176,"labelOverlap":false,"values":[0,0.2,0.4],"format":".1f","tickSize":-3,"labelFontSize":9.5,"title":null}}}},
{"data":{"name":"lb"},"transform":[{"filter":{"field":"w","range":[3700,3750]}}],"mark":{"type":"text","angle":270,"align":"right","baseline":"top","dy":3,"fontSize":9,"color":"#333"},"encoding":{"x":{"field":"w","type":"quantitative","scale":{"domain":[3700,3750],"range":[176,226],"nice":false,"zero":false},"axis":null},"y":{"datum":0.52,"type":"quantitative","scale":{"domain":[-0.2,0.6],"range":[108,8],"nice":false,"zero":false},"axis":null},"text":{"field":"n"}}},
{"data":{"values":[{}]},"mark":{"type":"rect","fill":"white","stroke":"#333","strokeWidth":1},"encoding":{"x":{"datum":3850,"type":"quantitative","scale":{"domain":[3850,3900],"range":[235,285],"nice":false,"zero":false},"axis":null},"x2":{"datum":3900},"y":{"datum":-0.2,"type":"quantitative","scale":{"domain":[-0.2,0.6],"range":[108,8],"nice":false,"zero":false},"axis":null},"y2":{"datum":0.6}}},
{"data":{"values":[{}]},"mark":{"type":"rect","color":"#cccccc"},"encoding":{"x":{"datum":3850,"type":"quantitative","scale":{"domain":[3850,3900],"range":[235,285],"nice":false,"zero":false},"axis":null},"x2":{"datum":3900},"y":{"datum":-0.04,"type":"quantitative","scale":{"domain":[-0.2,0.6],"range":[108,8],"nice":false,"zero":false},"axis":null},"y2":{"datum":0.04}}},
{"data":{"name":"rl"},"transform":[{"filter":{"field":"w","range":[3850,3900]}}],"mark":{"type":"rule","color":"black","strokeDash":[1.5,1.5]},"encoding":{"x":{"field":"w","type":"quantitative","scale":{"domain":[3850,3900],"range":[235,285],"nice":false,"zero":false},"axis":null},"y":{"datum":-0.2,"type":"quantitative","scale":{"domain":[-0.2,0.6],"range":[108,8],"nice":false,"zero":false},"axis":null},"y2":{"datum":0.6}}},
{"data":{"name":"i1"},"transform":[{"filter":{"field":"w","range":[3850,3900]}}],"mark":{"type":"line","interpolate":"step","color":"black","strokeWidth":1},"encoding":{"x":{"field":"w","type":"quantitative","scale":{"domain":[3850,3900],"range":[235,285],"nice":false,"zero":false},"axis":{"orient":"bottom","offset":-59,"labelOverlap":false,"values":[3850,3860,3870,3880,3890],"labelExpr":"datum.value == 3850 || datum.value == 3880 ? '' + datum.value : ''","tickSize":-3,"labelFontSize":9.5,"title":null}},"y":{"field":"f","type":"quantitative","scale":{"domain":[-0.2,0.6],"range":[108,8],"nice":false,"zero":false,"clamp":true},"axis":{"orient":"left","offset":-235,"values":[0,0.2,0.4],"labels":false,"tickSize":-3,"title":null}}}},
{"data":{"name":"lb"},"transform":[{"filter":{"field":"w","range":[3850,3900]}}],"mark":{"type":"text","angle":270,"align":"right","baseline":"top","dy":3,"fontSize":9,"color":"#333"},"encoding":{"x":{"field":"w","type":"quantitative","scale":{"domain":[3850,3900],"range":[235,285],"nice":false,"zero":false},"axis":null},"y":{"datum":0.52,"type":"quantitative","scale":{"domain":[-0.2,0.6],"range":[108,8],"nice":false,"zero":false},"axis":null},"text":{"field":"n"}}}
]},
{"width":327,"height":167,"resolve":{"scale":{"x":"independent","y":"independent"}},"layer":[
{"data":{"values":[{}]},"mark":{"type":"rect","color":"#cccccc"},"encoding":{"x":{"datum":4800,"type":"quantitative","scale":{"domain":[4800,5100],"nice":false,"zero":false},"axis":null},"x2":{"datum":5100},"y":{"datum":-0.04,"type":"quantitative","scale":{"domain":[-1,5],"nice":false,"zero":false},"axis":null},"y2":{"datum":0.04}}},
{"data":{"name":"rl"},"transform":[{"filter":{"field":"w","range":[4800,5100]}}],"mark":{"type":"rule","color":"black","strokeDash":[1.5,1.5]},"encoding":{"x":{"field":"w","type":"quantitative","scale":{"domain":[4800,5100],"nice":false,"zero":false},"axis":null}}},
{"data":{"name":"m1"},"transform":[{"filter":{"field":"w","range":[4800,5100]}}],"mark":{"type":"line","interpolate":"step","color":"black","strokeWidth":1.2,"clip":true},"encoding":{"x":{"field":"w","type":"quantitative","scale":{"domain":[4800,5100],"nice":false,"zero":false},"axis":{"orient":"bottom","labelOverlap":false,"values":[4812.5,4825,4837.5,4850,4862.5,4875,4887.5,4900,4912.5,4925,4937.5,4950,4962.5,4975,4987.5,5000,5012.5,5025,5037.5,5050,5062.5,5075,5087.5],"labelExpr":"datum.value % 50 == 0 ? '' + datum.value : ''","tickSize":{"condition":{"test":"datum.value % 50 == 0","value":-5},"value":-2.5},"title":"rest-frame wavelength (Å)","titlePadding":2}},"y":{"field":"f","type":"quantitative","scale":{"domain":[-1,5],"nice":false,"zero":false},"axis":{"orient":"left","values":[-1,-0.8,-0.6,-0.4,-0.2,0,0.2,0.4,0.6,0.8,1,1.2,1.4,1.6,1.8,2,2.2,2.4,2.6,2.8,3,3.2,3.4,3.6,3.8,4,4.2,4.4,4.6,4.8,5],"labels":false,"tickSize":{"condition":{"test":"datum.value % 1 == 0","value":-5},"value":-2.5},"title":null}}}},
{"data":{"name":"m1"},"transform":[{"filter":{"field":"w","range":[4800,5100]}}],"mark":{"type":"point","opacity":0,"clip":true},"encoding":{"x":{"field":"w","type":"quantitative","scale":{"domain":[4800,5100],"nice":false,"zero":false},"axis":{"orient":"top","values":[4812.5,4825,4837.5,4850,4862.5,4875,4887.5,4900,4912.5,4925,4937.5,4950,4962.5,4975,4987.5,5000,5012.5,5025,5037.5,5050,5062.5,5075,5087.5],"labels":false,"tickSize":{"condition":{"test":"datum.value % 50 == 0","value":-5},"value":-2.5},"title":null}},"y":{"field":"f","type":"quantitative","scale":{"domain":[-1,5],"nice":false,"zero":false},"axis":{"orient":"right","values":[-1,-0.8,-0.6,-0.4,-0.2,0,0.2,0.4,0.6,0.8,1,1.2,1.4,1.6,1.8,2,2.2,2.4,2.6,2.8,3,3.2,3.4,3.6,3.8,4,4.2,4.4,4.6,4.8,5],"labels":false,"tickSize":{"condition":{"test":"datum.value % 1 == 0","value":-5},"value":-2.5},"title":null}}}},
{"data":{"name":"lb"},"transform":[{"filter":{"field":"w","range":[4800,5100]}}],"mark":{"type":"text","angle":270,"align":"right","baseline":"top","dy":3,"fontSize":11.5,"color":"#333"},"encoding":{"x":{"field":"w","type":"quantitative","scale":{"domain":[4800,5100],"nice":false,"zero":false},"axis":null},"y":{"datum":4.45,"type":"quantitative","scale":{"domain":[-1,5],"nice":false,"zero":false},"axis":null},"text":{"field":"n"}}}
]},
{"width":109,"height":167,"resolve":{"scale":{"x":"independent","y":"independent"}},"layer":[
{"data":{"values":[{}]},"mark":{"type":"rect","color":"#cccccc"},"encoding":{"x":{"datum":6500,"type":"quantitative","scale":{"domain":[6500,6600],"nice":false,"zero":false},"axis":null},"x2":{"datum":6600},"y":{"datum":-0.04,"type":"quantitative","scale":{"domain":[-1,5],"nice":false,"zero":false},"axis":null},"y2":{"datum":0.04}}},
{"data":{"name":"rl"},"transform":[{"filter":{"field":"w","range":[6500,6600]}}],"mark":{"type":"rule","color":"black","strokeDash":[1.5,1.5]},"encoding":{"x":{"field":"w","type":"quantitative","scale":{"domain":[6500,6600],"nice":false,"zero":false},"axis":null}}},
{"data":{"name":"m1"},"transform":[{"filter":{"field":"w","range":[6500,6600]}}],"mark":{"type":"line","interpolate":"step","color":"black","strokeWidth":1.2,"clip":true},"encoding":{"x":{"field":"w","type":"quantitative","scale":{"domain":[6500,6600],"nice":false,"zero":false},"axis":{"orient":"bottom","labelOverlap":false,"values":[6512.5,6525,6537.5,6550,6562.5,6575,6587.5,6600],"labelExpr":"datum.value % 50 == 0 ? '' + datum.value : ''","tickSize":{"condition":{"test":"datum.value % 50 == 0","value":-5},"value":-2.5},"title":null}},"y":{"field":"f","type":"quantitative","scale":{"domain":[-1,5],"nice":false,"zero":false},"axis":{"orient":"left","values":[-1,-0.8,-0.6,-0.4,-0.2,0,0.2,0.4,0.6,0.8,1,1.2,1.4,1.6,1.8,2,2.2,2.4,2.6,2.8,3,3.2,3.4,3.6,3.8,4,4.2,4.4,4.6,4.8,5],"labels":false,"tickSize":{"condition":{"test":"datum.value % 1 == 0","value":-5},"value":-2.5},"title":null}}}},
{"data":{"name":"m1"},"transform":[{"filter":{"field":"w","range":[6500,6600]}}],"mark":{"type":"point","opacity":0,"clip":true},"encoding":{"x":{"field":"w","type":"quantitative","scale":{"domain":[6500,6600],"nice":false,"zero":false},"axis":{"orient":"top","values":[6512.5,6525,6537.5,6550,6562.5,6575,6587.5],"labels":false,"tickSize":{"condition":{"test":"datum.value % 50 == 0","value":-5},"value":-2.5},"title":null}},"y":{"field":"f","type":"quantitative","scale":{"domain":[-1,5],"nice":false,"zero":false},"axis":{"orient":"right","values":[-1,-0.8,-0.6,-0.4,-0.2,0,0.2,0.4,0.6,0.8,1,1.2,1.4,1.6,1.8,2,2.2,2.4,2.6,2.8,3,3.2,3.4,3.6,3.8,4,4.2,4.4,4.6,4.8,5],"labels":false,"tickSize":{"condition":{"test":"datum.value % 1 == 0","value":-5},"value":-2.5},"title":null}}}},
{"data":{"name":"lb"},"transform":[{"filter":{"field":"w","range":[6500,6600]}}],"mark":{"type":"text","angle":270,"align":"right","baseline":"top","dy":3,"fontSize":11.5,"color":"#333"},"encoding":{"x":{"field":"w","type":"quantitative","scale":{"domain":[6500,6600],"nice":false,"zero":false},"axis":null},"y":{"datum":4.45,"type":"quantitative","scale":{"domain":[-1,5],"nice":false,"zero":false},"axis":null},"text":{"field":"n"}}}
]},
{"width":328,"height":167,"resolve":{"scale":{"x":"independent","y":"independent"}},"layer":[
{"data":{"values":[{}]},"mark":{"type":"rect","color":"#cccccc"},"encoding":{"x":{"datum":3600,"type":"quantitative","scale":{"domain":[3600,3900],"nice":false,"zero":false},"axis":null},"x2":{"datum":3900},"y":{"datum":-0.04,"type":"quantitative","scale":{"domain":[-1,5],"nice":false,"zero":false},"axis":null},"y2":{"datum":0.04}}},
{"data":{"name":"rl"},"transform":[{"filter":{"field":"w","range":[3600,3900]}}],"mark":{"type":"rule","color":"black","strokeDash":[1.5,1.5]},"encoding":{"x":{"field":"w","type":"quantitative","scale":{"domain":[3600,3900],"nice":false,"zero":false},"axis":null}}},
{"data":{"name":"m2"},"transform":[{"filter":{"field":"w","range":[3600,3900]}}],"mark":{"type":"line","interpolate":"step","color":"black","strokeWidth":1.2,"clip":true},"encoding":{"x":{"field":"w","type":"quantitative","scale":{"domain":[3600,3900],"nice":false,"zero":false},"axis":{"orient":"bottom","labelOverlap":false,"values":[3612.5,3625,3637.5,3650,3662.5,3675,3687.5,3700,3712.5,3725,3737.5,3750,3762.5,3775,3787.5,3800,3812.5,3825,3837.5,3850,3862.5,3875,3887.5],"labelExpr":"datum.value % 50 == 0 ? '' + datum.value : ''","tickSize":{"condition":{"test":"datum.value % 50 == 0","value":-5},"value":-2.5},"title":null}},"y":{"field":"f","type":"quantitative","scale":{"domain":[-1,5],"nice":false,"zero":false},"axis":{"orient":"left","values":[-1,0,1,2,3,4,5],"labels":false,"tickSize":-5,"title":"fλ (arbitrary unit)","titlePadding":22}}}},
{"data":{"name":"yl"},"mark":{"type":"text","align":"right","baseline":"middle","dx":-3,"fontSize":11,"color":"black"},"encoding":{"x":{"datum":3600,"type":"quantitative","scale":{"domain":[3600,3900],"nice":false,"zero":false},"axis":null},"y":{"field":"v","type":"quantitative","scale":{"domain":[-1,5],"nice":false,"zero":false},"axis":null},"text":{"field":"t"}}},
{"data":{"name":"m2"},"transform":[{"filter":{"field":"w","range":[3600,3900]}}],"mark":{"type":"point","opacity":0,"clip":true},"encoding":{"x":{"field":"w","type":"quantitative","scale":{"domain":[3600,3900],"nice":false,"zero":false},"axis":null},"y":{"field":"f","type":"quantitative","scale":{"domain":[-1,5],"nice":false,"zero":false},"axis":{"orient":"left","values":[-0.8,-0.6,-0.4,-0.2,0.2,0.4,0.6,0.8,1.2,1.4,1.6,1.8,2.2,2.4,2.6,2.8,3.2,3.4,3.6,3.8,4.2,4.4,4.6,4.8],"labels":false,"tickSize":-2.5,"title":null}}}},
{"data":{"name":"m2"},"transform":[{"filter":{"field":"w","range":[3600,3900]}}],"mark":{"type":"point","opacity":0,"clip":true},"encoding":{"x":{"field":"w","type":"quantitative","scale":{"domain":[3600,3900],"nice":false,"zero":false},"axis":{"orient":"top","values":[3612.5,3625,3637.5,3650,3662.5,3675,3687.5,3700,3712.5,3725,3737.5,3750,3762.5,3775,3787.5,3800,3812.5,3825,3837.5,3850,3862.5,3875,3887.5],"labels":false,"tickSize":{"condition":{"test":"datum.value % 50 == 0","value":-5},"value":-2.5},"title":null}},"y":{"field":"f","type":"quantitative","scale":{"domain":[-1,5],"nice":false,"zero":false},"axis":{"orient":"right","values":[-1,-0.8,-0.6,-0.4,-0.2,0,0.2,0.4,0.6,0.8,1,1.2,1.4,1.6,1.8,2,2.2,2.4,2.6,2.8,3,3.2,3.4,3.6,3.8,4,4.2,4.4,4.6,4.8,5],"labels":false,"tickSize":{"condition":{"test":"datum.value % 1 == 0","value":-5},"value":-2.5},"title":null}}}},
{"data":{"name":"lb"},"transform":[{"filter":{"field":"w","range":[3600,3800]}}],"mark":{"type":"text","angle":270,"align":"right","baseline":"top","dy":3,"fontSize":11.5,"color":"#333"},"encoding":{"x":{"field":"w","type":"quantitative","scale":{"domain":[3600,3900],"nice":false,"zero":false},"axis":null},"y":{"datum":4.45,"type":"quantitative","scale":{"domain":[-1,5],"nice":false,"zero":false},"axis":null},"text":{"field":"n"}}},
{"data":{"name":"lb"},"transform":[{"filter":{"field":"w","range":[3800,3900]}}],"mark":{"type":"text","angle":270,"align":"right","baseline":"top","dy":3,"fontSize":11.5,"color":"#333"},"encoding":{"x":{"field":"w","type":"quantitative","scale":{"domain":[3600,3900],"nice":false,"zero":false},"axis":null},"y":{"datum":4.85,"type":"quantitative","scale":{"domain":[-1,5],"nice":false,"zero":false},"axis":null},"text":{"field":"n"}}},
{"data":{"values":[{}]},"mark":{"type":"text","text":["[OIII]λ5007 EW","= 450 − 800Å"],"align":"left","baseline":"top","fontWeight":"bold","fontSize":13,"lineHeight":16},"encoding":{"x":{"datum":3610,"type":"quantitative","scale":{"domain":[3600,3900],"nice":false,"zero":false},"axis":null},"y":{"datum":4.72,"type":"quantitative","scale":{"domain":[-1,5],"nice":false,"zero":false},"axis":null}}},
{"data":{"values":[{}]},"mark":{"type":"rect","fill":"white","stroke":"#333","strokeWidth":1},"encoding":{"x":{"datum":3700,"type":"quantitative","scale":{"domain":[3700,3750],"range":[176,226],"nice":false,"zero":false},"axis":null},"x2":{"datum":3750},"y":{"datum":-0.2,"type":"quantitative","scale":{"domain":[-0.2,0.9],"range":[108,8],"nice":false,"zero":false},"axis":null},"y2":{"datum":0.9}}},
{"data":{"values":[{}]},"mark":{"type":"rect","color":"#cccccc"},"encoding":{"x":{"datum":3700,"type":"quantitative","scale":{"domain":[3700,3750],"range":[176,226],"nice":false,"zero":false},"axis":null},"x2":{"datum":3750},"y":{"datum":-0.04,"type":"quantitative","scale":{"domain":[-0.2,0.9],"range":[108,8],"nice":false,"zero":false},"axis":null},"y2":{"datum":0.04}}},
{"data":{"name":"rl"},"transform":[{"filter":{"field":"w","range":[3700,3750]}}],"mark":{"type":"rule","color":"black","strokeDash":[1.5,1.5]},"encoding":{"x":{"field":"w","type":"quantitative","scale":{"domain":[3700,3750],"range":[176,226],"nice":false,"zero":false},"axis":null},"y":{"datum":-0.2,"type":"quantitative","scale":{"domain":[-0.2,0.9],"range":[108,8],"nice":false,"zero":false},"axis":null},"y2":{"datum":0.9}}},
{"data":{"name":"i2"},"transform":[{"filter":{"field":"w","range":[3700,3750]}}],"mark":{"type":"line","interpolate":"step","color":"black","strokeWidth":1},"encoding":{"x":{"field":"w","type":"quantitative","scale":{"domain":[3700,3750],"range":[176,226],"nice":false,"zero":false},"axis":{"orient":"bottom","offset":-59,"labelOverlap":false,"values":[3700,3710,3720,3730,3740],"labelExpr":"datum.value == 3700 || datum.value == 3730 ? '' + datum.value : ''","tickSize":-3,"labelFontSize":9.5,"title":null}},"y":{"field":"f","type":"quantitative","scale":{"domain":[-0.2,0.9],"range":[108,8],"nice":false,"zero":false,"clamp":true},"axis":{"orient":"left","offset":-176,"labelOverlap":false,"values":[0,0.2,0.4,0.6,0.8],"format":".1f","tickSize":-3,"labelFontSize":9.5,"title":null}}}},
{"data":{"name":"lb"},"transform":[{"filter":{"field":"w","range":[3700,3750]}}],"mark":{"type":"text","angle":270,"align":"right","baseline":"top","dy":3,"fontSize":9,"color":"#333"},"encoding":{"x":{"field":"w","type":"quantitative","scale":{"domain":[3700,3750],"range":[176,226],"nice":false,"zero":false},"axis":null},"y":{"datum":0.79,"type":"quantitative","scale":{"domain":[-0.2,0.9],"range":[108,8],"nice":false,"zero":false},"axis":null},"text":{"field":"n"}}},
{"data":{"values":[{}]},"mark":{"type":"rect","fill":"white","stroke":"#333","strokeWidth":1},"encoding":{"x":{"datum":3850,"type":"quantitative","scale":{"domain":[3850,3900],"range":[235,285],"nice":false,"zero":false},"axis":null},"x2":{"datum":3900},"y":{"datum":-0.2,"type":"quantitative","scale":{"domain":[-0.2,0.9],"range":[108,8],"nice":false,"zero":false},"axis":null},"y2":{"datum":0.9}}},
{"data":{"values":[{}]},"mark":{"type":"rect","color":"#cccccc"},"encoding":{"x":{"datum":3850,"type":"quantitative","scale":{"domain":[3850,3900],"range":[235,285],"nice":false,"zero":false},"axis":null},"x2":{"datum":3900},"y":{"datum":-0.04,"type":"quantitative","scale":{"domain":[-0.2,0.9],"range":[108,8],"nice":false,"zero":false},"axis":null},"y2":{"datum":0.04}}},
{"data":{"name":"rl"},"transform":[{"filter":{"field":"w","range":[3850,3900]}}],"mark":{"type":"rule","color":"black","strokeDash":[1.5,1.5]},"encoding":{"x":{"field":"w","type":"quantitative","scale":{"domain":[3850,3900],"range":[235,285],"nice":false,"zero":false},"axis":null},"y":{"datum":-0.2,"type":"quantitative","scale":{"domain":[-0.2,0.9],"range":[108,8],"nice":false,"zero":false},"axis":null},"y2":{"datum":0.9}}},
{"data":{"name":"i2"},"transform":[{"filter":{"field":"w","range":[3850,3900]}}],"mark":{"type":"line","interpolate":"step","color":"black","strokeWidth":1},"encoding":{"x":{"field":"w","type":"quantitative","scale":{"domain":[3850,3900],"range":[235,285],"nice":false,"zero":false},"axis":{"orient":"bottom","offset":-59,"labelOverlap":false,"values":[3850,3860,3870,3880,3890],"labelExpr":"datum.value == 3850 || datum.value == 3880 ? '' + datum.value : ''","tickSize":-3,"labelFontSize":9.5,"title":null}},"y":{"field":"f","type":"quantitative","scale":{"domain":[-0.2,0.9],"range":[108,8],"nice":false,"zero":false,"clamp":true},"axis":{"orient":"left","offset":-235,"values":[0,0.2,0.4,0.6,0.8],"labels":false,"tickSize":-3,"title":null}}}},
{"data":{"name":"lb"},"transform":[{"filter":{"field":"w","range":[3850,3900]}}],"mark":{"type":"text","angle":270,"align":"right","baseline":"top","dy":3,"fontSize":9,"color":"#333"},"encoding":{"x":{"field":"w","type":"quantitative","scale":{"domain":[3850,3900],"range":[235,285],"nice":false,"zero":false},"axis":null},"y":{"datum":0.79,"type":"quantitative","scale":{"domain":[-0.2,0.9],"range":[108,8],"nice":false,"zero":false},"axis":null},"text":{"field":"n"}}}
]},
{"width":327,"height":167,"resolve":{"scale":{"x":"independent","y":"independent"}},"layer":[
{"data":{"values":[{}]},"mark":{"type":"rect","color":"#cccccc"},"encoding":{"x":{"datum":4800,"type":"quantitative","scale":{"domain":[4800,5100],"nice":false,"zero":false},"axis":null},"x2":{"datum":5100},"y":{"datum":-0.04,"type":"quantitative","scale":{"domain":[-1,5],"nice":false,"zero":false},"axis":null},"y2":{"datum":0.04}}},
{"data":{"name":"rl"},"transform":[{"filter":{"field":"w","range":[4800,5100]}}],"mark":{"type":"rule","color":"black","strokeDash":[1.5,1.5]},"encoding":{"x":{"field":"w","type":"quantitative","scale":{"domain":[4800,5100],"nice":false,"zero":false},"axis":null}}},
{"data":{"name":"m2"},"transform":[{"filter":{"field":"w","range":[4800,5100]}}],"mark":{"type":"line","interpolate":"step","color":"black","strokeWidth":1.2,"clip":true},"encoding":{"x":{"field":"w","type":"quantitative","scale":{"domain":[4800,5100],"nice":false,"zero":false},"axis":{"orient":"bottom","labelOverlap":false,"values":[4812.5,4825,4837.5,4850,4862.5,4875,4887.5,4900,4912.5,4925,4937.5,4950,4962.5,4975,4987.5,5000,5012.5,5025,5037.5,5050,5062.5,5075,5087.5],"labelExpr":"datum.value % 50 == 0 ? '' + datum.value : ''","tickSize":{"condition":{"test":"datum.value % 50 == 0","value":-5},"value":-2.5},"title":"rest-frame wavelength (Å)","titlePadding":2}},"y":{"field":"f","type":"quantitative","scale":{"domain":[-1,5],"nice":false,"zero":false},"axis":{"orient":"left","values":[-1,-0.8,-0.6,-0.4,-0.2,0,0.2,0.4,0.6,0.8,1,1.2,1.4,1.6,1.8,2,2.2,2.4,2.6,2.8,3,3.2,3.4,3.6,3.8,4,4.2,4.4,4.6,4.8,5],"labels":false,"tickSize":{"condition":{"test":"datum.value % 1 == 0","value":-5},"value":-2.5},"title":null}}}},
{"data":{"name":"m2"},"transform":[{"filter":{"field":"w","range":[4800,5100]}}],"mark":{"type":"point","opacity":0,"clip":true},"encoding":{"x":{"field":"w","type":"quantitative","scale":{"domain":[4800,5100],"nice":false,"zero":false},"axis":{"orient":"top","values":[4812.5,4825,4837.5,4850,4862.5,4875,4887.5,4900,4912.5,4925,4937.5,4950,4962.5,4975,4987.5,5000,5012.5,5025,5037.5,5050,5062.5,5075,5087.5],"labels":false,"tickSize":{"condition":{"test":"datum.value % 50 == 0","value":-5},"value":-2.5},"title":null}},"y":{"field":"f","type":"quantitative","scale":{"domain":[-1,5],"nice":false,"zero":false},"axis":{"orient":"right","values":[-1,-0.8,-0.6,-0.4,-0.2,0,0.2,0.4,0.6,0.8,1,1.2,1.4,1.6,1.8,2,2.2,2.4,2.6,2.8,3,3.2,3.4,3.6,3.8,4,4.2,4.4,4.6,4.8,5],"labels":false,"tickSize":{"condition":{"test":"datum.value % 1 == 0","value":-5},"value":-2.5},"title":null}}}},
{"data":{"name":"lb"},"transform":[{"filter":{"field":"w","range":[4800,5100]}}],"mark":{"type":"text","angle":270,"align":"right","baseline":"top","dy":3,"fontSize":11.5,"color":"#333"},"encoding":{"x":{"field":"w","type":"quantitative","scale":{"domain":[4800,5100],"nice":false,"zero":false},"axis":null},"y":{"datum":4.45,"type":"quantitative","scale":{"domain":[-1,5],"nice":false,"zero":false},"axis":null},"text":{"field":"n"}}}
]},
{"width":109,"height":167,"resolve":{"scale":{"x":"independent","y":"independent"}},"layer":[
{"data":{"values":[{}]},"mark":{"type":"rect","color":"#cccccc"},"encoding":{"x":{"datum":6500,"type":"quantitative","scale":{"domain":[6500,6600],"nice":false,"zero":false},"axis":null},"x2":{"datum":6600},"y":{"datum":-0.04,"type":"quantitative","scale":{"domain":[-1,5],"nice":false,"zero":false},"axis":null},"y2":{"datum":0.04}}},
{"data":{"name":"rl"},"transform":[{"filter":{"field":"w","range":[6500,6600]}}],"mark":{"type":"rule","color":"black","strokeDash":[1.5,1.5]},"encoding":{"x":{"field":"w","type":"quantitative","scale":{"domain":[6500,6600],"nice":false,"zero":false},"axis":null}}},
{"data":{"name":"m2"},"transform":[{"filter":{"field":"w","range":[6500,6600]}}],"mark":{"type":"line","interpolate":"step","color":"black","strokeWidth":1.2,"clip":true},"encoding":{"x":{"field":"w","type":"quantitative","scale":{"domain":[6500,6600],"nice":false,"zero":false},"axis":{"orient":"bottom","labelOverlap":false,"values":[6512.5,6525,6537.5,6550,6562.5,6575,6587.5,6600],"labelExpr":"datum.value % 50 == 0 ? '' + datum.value : ''","tickSize":{"condition":{"test":"datum.value % 50 == 0","value":-5},"value":-2.5},"title":null}},"y":{"field":"f","type":"quantitative","scale":{"domain":[-1,5],"nice":false,"zero":false},"axis":{"orient":"left","values":[-1,-0.8,-0.6,-0.4,-0.2,0,0.2,0.4,0.6,0.8,1,1.2,1.4,1.6,1.8,2,2.2,2.4,2.6,2.8,3,3.2,3.4,3.6,3.8,4,4.2,4.4,4.6,4.8,5],"labels":false,"tickSize":{"condition":{"test":"datum.value % 1 == 0","value":-5},"value":-2.5},"title":null}}}},
{"data":{"name":"m2"},"transform":[{"filter":{"field":"w","range":[6500,6600]}}],"mark":{"type":"point","opacity":0,"clip":true},"encoding":{"x":{"field":"w","type":"quantitative","scale":{"domain":[6500,6600],"nice":false,"zero":false},"axis":{"orient":"top","values":[6512.5,6525,6537.5,6550,6562.5,6575,6587.5],"labels":false,"tickSize":{"condition":{"test":"datum.value % 50 == 0","value":-5},"value":-2.5},"title":null}},"y":{"field":"f","type":"quantitative","scale":{"domain":[-1,5],"nice":false,"zero":false},"axis":{"orient":"right","values":[-1,-0.8,-0.6,-0.4,-0.2,0,0.2,0.4,0.6,0.8,1,1.2,1.4,1.6,1.8,2,2.2,2.4,2.6,2.8,3,3.2,3.4,3.6,3.8,4,4.2,4.4,4.6,4.8,5],"labels":false,"tickSize":{"condition":{"test":"datum.value % 1 == 0","value":-5},"value":-2.5},"title":null}}}},
{"data":{"name":"lb"},"transform":[{"filter":{"field":"w","range":[6500,6600]}}],"mark":{"type":"text","angle":270,"align":"right","baseline":"top","dy":3,"fontSize":11.5,"color":"#333"},"encoding":{"x":{"field":"w","type":"quantitative","scale":{"domain":[6500,6600],"nice":false,"zero":false},"axis":null},"y":{"datum":4.45,"type":"quantitative","scale":{"domain":[-1,5],"nice":false,"zero":false},"axis":null},"text":{"field":"n"}}}
]},
{"width":328,"height":167,"resolve":{"scale":{"x":"independent","y":"independent"}},"layer":[
{"data":{"values":[{}]},"mark":{"type":"rect","color":"#cccccc"},"encoding":{"x":{"datum":3600,"type":"quantitative","scale":{"domain":[3600,3900],"nice":false,"zero":false},"axis":null},"x2":{"datum":3900},"y":{"datum":-0.04,"type":"quantitative","scale":{"domain":[-1,5],"nice":false,"zero":false},"axis":null},"y2":{"datum":0.04}}},
{"data":{"name":"rl"},"transform":[{"filter":{"field":"w","range":[3600,3900]}}],"mark":{"type":"rule","color":"black","strokeDash":[1.5,1.5]},"encoding":{"x":{"field":"w","type":"quantitative","scale":{"domain":[3600,3900],"nice":false,"zero":false},"axis":null}}},
{"data":{"name":"m3"},"transform":[{"filter":{"field":"w","range":[3600,3900]}}],"mark":{"type":"line","interpolate":"step","color":"black","strokeWidth":1.2,"clip":true},"encoding":{"x":{"field":"w","type":"quantitative","scale":{"domain":[3600,3900],"nice":false,"zero":false},"axis":{"orient":"bottom","labelOverlap":false,"values":[3612.5,3625,3637.5,3650,3662.5,3675,3687.5,3700,3712.5,3725,3737.5,3750,3762.5,3775,3787.5,3800,3812.5,3825,3837.5,3850,3862.5,3875,3887.5],"labelExpr":"datum.value % 50 == 0 ? '' + datum.value : ''","tickSize":{"condition":{"test":"datum.value % 50 == 0","value":-5},"value":-2.5},"title":null}},"y":{"field":"f","type":"quantitative","scale":{"domain":[-1,5],"nice":false,"zero":false},"axis":{"orient":"left","values":[-1,0,1,2,3,4,5],"labels":false,"tickSize":-5,"title":"fλ (arbitrary unit)","titlePadding":22}}}},
{"data":{"name":"yl"},"mark":{"type":"text","align":"right","baseline":"middle","dx":-3,"fontSize":11,"color":"black"},"encoding":{"x":{"datum":3600,"type":"quantitative","scale":{"domain":[3600,3900],"nice":false,"zero":false},"axis":null},"y":{"field":"v","type":"quantitative","scale":{"domain":[-1,5],"nice":false,"zero":false},"axis":null},"text":{"field":"t"}}},
{"data":{"name":"m3"},"transform":[{"filter":{"field":"w","range":[3600,3900]}}],"mark":{"type":"point","opacity":0,"clip":true},"encoding":{"x":{"field":"w","type":"quantitative","scale":{"domain":[3600,3900],"nice":false,"zero":false},"axis":null},"y":{"field":"f","type":"quantitative","scale":{"domain":[-1,5],"nice":false,"zero":false},"axis":{"orient":"left","values":[-0.8,-0.6,-0.4,-0.2,0.2,0.4,0.6,0.8,1.2,1.4,1.6,1.8,2.2,2.4,2.6,2.8,3.2,3.4,3.6,3.8,4.2,4.4,4.6,4.8],"labels":false,"tickSize":-2.5,"title":null}}}},
{"data":{"name":"m3"},"transform":[{"filter":{"field":"w","range":[3600,3900]}}],"mark":{"type":"point","opacity":0,"clip":true},"encoding":{"x":{"field":"w","type":"quantitative","scale":{"domain":[3600,3900],"nice":false,"zero":false},"axis":{"orient":"top","values":[3612.5,3625,3637.5,3650,3662.5,3675,3687.5,3700,3712.5,3725,3737.5,3750,3762.5,3775,3787.5,3800,3812.5,3825,3837.5,3850,3862.5,3875,3887.5],"labels":false,"tickSize":{"condition":{"test":"datum.value % 50 == 0","value":-5},"value":-2.5},"title":null}},"y":{"field":"f","type":"quantitative","scale":{"domain":[-1,5],"nice":false,"zero":false},"axis":{"orient":"right","values":[-1,-0.8,-0.6,-0.4,-0.2,0,0.2,0.4,0.6,0.8,1,1.2,1.4,1.6,1.8,2,2.2,2.4,2.6,2.8,3,3.2,3.4,3.6,3.8,4,4.2,4.4,4.6,4.8,5],"labels":false,"tickSize":{"condition":{"test":"datum.value % 1 == 0","value":-5},"value":-2.5},"title":null}}}},
{"data":{"name":"lb"},"transform":[{"filter":{"field":"w","range":[3600,3800]}}],"mark":{"type":"text","angle":270,"align":"right","baseline":"top","dy":3,"fontSize":11.5,"color":"#333"},"encoding":{"x":{"field":"w","type":"quantitative","scale":{"domain":[3600,3900],"nice":false,"zero":false},"axis":null},"y":{"datum":4.45,"type":"quantitative","scale":{"domain":[-1,5],"nice":false,"zero":false},"axis":null},"text":{"field":"n"}}},
{"data":{"name":"lb"},"transform":[{"filter":{"field":"w","range":[3800,3900]}}],"mark":{"type":"text","angle":270,"align":"right","baseline":"top","dy":3,"fontSize":11.5,"color":"#333"},"encoding":{"x":{"field":"w","type":"quantitative","scale":{"domain":[3600,3900],"nice":false,"zero":false},"axis":null},"y":{"datum":4.85,"type":"quantitative","scale":{"domain":[-1,5],"nice":false,"zero":false},"axis":null},"text":{"field":"n"}}},
{"data":{"values":[{}]},"mark":{"type":"text","text":["[OIII]λ5007 EW","= 225 − 450Å"],"align":"left","baseline":"top","fontWeight":"bold","fontSize":13,"lineHeight":16},"encoding":{"x":{"datum":3610,"type":"quantitative","scale":{"domain":[3600,3900],"nice":false,"zero":false},"axis":null},"y":{"datum":4.72,"type":"quantitative","scale":{"domain":[-1,5],"nice":false,"zero":false},"axis":null}}},
{"data":{"values":[{}]},"mark":{"type":"rect","fill":"white","stroke":"#333","strokeWidth":1},"encoding":{"x":{"datum":3700,"type":"quantitative","scale":{"domain":[3700,3750],"range":[176,226],"nice":false,"zero":false},"axis":null},"x2":{"datum":3750},"y":{"datum":-0.25,"type":"quantitative","scale":{"domain":[-0.25,1.42],"range":[108,8],"nice":false,"zero":false},"axis":null},"y2":{"datum":1.42}}},
{"data":{"values":[{}]},"mark":{"type":"rect","color":"#cccccc"},"encoding":{"x":{"datum":3700,"type":"quantitative","scale":{"domain":[3700,3750],"range":[176,226],"nice":false,"zero":false},"axis":null},"x2":{"datum":3750},"y":{"datum":-0.04,"type":"quantitative","scale":{"domain":[-0.25,1.42],"range":[108,8],"nice":false,"zero":false},"axis":null},"y2":{"datum":0.04}}},
{"data":{"name":"rl"},"transform":[{"filter":{"field":"w","range":[3700,3750]}}],"mark":{"type":"rule","color":"black","strokeDash":[1.5,1.5]},"encoding":{"x":{"field":"w","type":"quantitative","scale":{"domain":[3700,3750],"range":[176,226],"nice":false,"zero":false},"axis":null},"y":{"datum":-0.25,"type":"quantitative","scale":{"domain":[-0.25,1.42],"range":[108,8],"nice":false,"zero":false},"axis":null},"y2":{"datum":1.42}}},
{"data":{"name":"i3"},"transform":[{"filter":{"field":"w","range":[3700,3750]}}],"mark":{"type":"line","interpolate":"step","color":"black","strokeWidth":1},"encoding":{"x":{"field":"w","type":"quantitative","scale":{"domain":[3700,3750],"range":[176,226],"nice":false,"zero":false},"axis":{"orient":"bottom","offset":-59,"labelOverlap":false,"values":[3700,3710,3720,3730,3740],"labelExpr":"datum.value == 3700 || datum.value == 3730 ? '' + datum.value : ''","tickSize":-3,"labelFontSize":9.5,"title":null}},"y":{"field":"f","type":"quantitative","scale":{"domain":[-0.25,1.42],"range":[108,8],"nice":false,"zero":false,"clamp":true},"axis":{"orient":"left","offset":-176,"labelOverlap":false,"values":[0,0.4,0.8,1.2],"format":".1f","tickSize":-3,"labelFontSize":9.5,"title":null}}}},
{"data":{"name":"lb"},"transform":[{"filter":{"field":"w","range":[3700,3750]}}],"mark":{"type":"text","angle":270,"align":"right","baseline":"top","dy":3,"fontSize":9,"color":"#333"},"encoding":{"x":{"field":"w","type":"quantitative","scale":{"domain":[3700,3750],"range":[176,226],"nice":false,"zero":false},"axis":null},"y":{"datum":1.25,"type":"quantitative","scale":{"domain":[-0.25,1.42],"range":[108,8],"nice":false,"zero":false},"axis":null},"text":{"field":"n"}}},
{"data":{"values":[{}]},"mark":{"type":"rect","fill":"white","stroke":"#333","strokeWidth":1},"encoding":{"x":{"datum":3850,"type":"quantitative","scale":{"domain":[3850,3900],"range":[235,285],"nice":false,"zero":false},"axis":null},"x2":{"datum":3900},"y":{"datum":-0.25,"type":"quantitative","scale":{"domain":[-0.25,1.42],"range":[108,8],"nice":false,"zero":false},"axis":null},"y2":{"datum":1.42}}},
{"data":{"values":[{}]},"mark":{"type":"rect","color":"#cccccc"},"encoding":{"x":{"datum":3850,"type":"quantitative","scale":{"domain":[3850,3900],"range":[235,285],"nice":false,"zero":false},"axis":null},"x2":{"datum":3900},"y":{"datum":-0.04,"type":"quantitative","scale":{"domain":[-0.25,1.42],"range":[108,8],"nice":false,"zero":false},"axis":null},"y2":{"datum":0.04}}},
{"data":{"name":"rl"},"transform":[{"filter":{"field":"w","range":[3850,3900]}}],"mark":{"type":"rule","color":"black","strokeDash":[1.5,1.5]},"encoding":{"x":{"field":"w","type":"quantitative","scale":{"domain":[3850,3900],"range":[235,285],"nice":false,"zero":false},"axis":null},"y":{"datum":-0.25,"type":"quantitative","scale":{"domain":[-0.25,1.42],"range":[108,8],"nice":false,"zero":false},"axis":null},"y2":{"datum":1.42}}},
{"data":{"name":"i3"},"transform":[{"filter":{"field":"w","range":[3850,3900]}}],"mark":{"type":"line","interpolate":"step","color":"black","strokeWidth":1},"encoding":{"x":{"field":"w","type":"quantitative","scale":{"domain":[3850,3900],"range":[235,285],"nice":false,"zero":false},"axis":{"orient":"bottom","offset":-59,"labelOverlap":false,"values":[3850,3860,3870,3880,3890],"labelExpr":"datum.value == 3850 || datum.value == 3880 ? '' + datum.value : ''","tickSize":-3,"labelFontSize":9.5,"title":null}},"y":{"field":"f","type":"quantitative","scale":{"domain":[-0.25,1.42],"range":[108,8],"nice":false,"zero":false,"clamp":true},"axis":{"orient":"left","offset":-235,"values":[0,0.4,0.8,1.2],"labels":false,"tickSize":-3,"title":null}}}},
{"data":{"name":"lb"},"transform":[{"filter":{"field":"w","range":[3850,3900]}}],"mark":{"type":"text","angle":270,"align":"right","baseline":"top","dy":3,"fontSize":9,"color":"#333"},"encoding":{"x":{"field":"w","type":"quantitative","scale":{"domain":[3850,3900],"range":[235,285],"nice":false,"zero":false},"axis":null},"y":{"datum":1.25,"type":"quantitative","scale":{"domain":[-0.25,1.42],"range":[108,8],"nice":false,"zero":false},"axis":null},"text":{"field":"n"}}}
]},
{"width":327,"height":167,"resolve":{"scale":{"x":"independent","y":"independent"}},"layer":[
{"data":{"values":[{}]},"mark":{"type":"rect","color":"#cccccc"},"encoding":{"x":{"datum":4800,"type":"quantitative","scale":{"domain":[4800,5100],"nice":false,"zero":false},"axis":null},"x2":{"datum":5100},"y":{"datum":-0.04,"type":"quantitative","scale":{"domain":[-1,5],"nice":false,"zero":false},"axis":null},"y2":{"datum":0.04}}},
{"data":{"name":"rl"},"transform":[{"filter":{"field":"w","range":[4800,5100]}}],"mark":{"type":"rule","color":"black","strokeDash":[1.5,1.5]},"encoding":{"x":{"field":"w","type":"quantitative","scale":{"domain":[4800,5100],"nice":false,"zero":false},"axis":null}}},
{"data":{"name":"m3"},"transform":[{"filter":{"field":"w","range":[4800,5100]}}],"mark":{"type":"line","interpolate":"step","color":"black","strokeWidth":1.2,"clip":true},"encoding":{"x":{"field":"w","type":"quantitative","scale":{"domain":[4800,5100],"nice":false,"zero":false},"axis":{"orient":"bottom","labelOverlap":false,"values":[4812.5,4825,4837.5,4850,4862.5,4875,4887.5,4900,4912.5,4925,4937.5,4950,4962.5,4975,4987.5,5000,5012.5,5025,5037.5,5050,5062.5,5075,5087.5],"labelExpr":"datum.value % 50 == 0 ? '' + datum.value : ''","tickSize":{"condition":{"test":"datum.value % 50 == 0","value":-5},"value":-2.5},"title":"rest-frame wavelength (Å)","titlePadding":2}},"y":{"field":"f","type":"quantitative","scale":{"domain":[-1,5],"nice":false,"zero":false},"axis":{"orient":"left","values":[-1,-0.8,-0.6,-0.4,-0.2,0,0.2,0.4,0.6,0.8,1,1.2,1.4,1.6,1.8,2,2.2,2.4,2.6,2.8,3,3.2,3.4,3.6,3.8,4,4.2,4.4,4.6,4.8,5],"labels":false,"tickSize":{"condition":{"test":"datum.value % 1 == 0","value":-5},"value":-2.5},"title":null}}}},
{"data":{"name":"m3"},"transform":[{"filter":{"field":"w","range":[4800,5100]}}],"mark":{"type":"point","opacity":0,"clip":true},"encoding":{"x":{"field":"w","type":"quantitative","scale":{"domain":[4800,5100],"nice":false,"zero":false},"axis":{"orient":"top","values":[4812.5,4825,4837.5,4850,4862.5,4875,4887.5,4900,4912.5,4925,4937.5,4950,4962.5,4975,4987.5,5000,5012.5,5025,5037.5,5050,5062.5,5075,5087.5],"labels":false,"tickSize":{"condition":{"test":"datum.value % 50 == 0","value":-5},"value":-2.5},"title":null}},"y":{"field":"f","type":"quantitative","scale":{"domain":[-1,5],"nice":false,"zero":false},"axis":{"orient":"right","values":[-1,-0.8,-0.6,-0.4,-0.2,0,0.2,0.4,0.6,0.8,1,1.2,1.4,1.6,1.8,2,2.2,2.4,2.6,2.8,3,3.2,3.4,3.6,3.8,4,4.2,4.4,4.6,4.8,5],"labels":false,"tickSize":{"condition":{"test":"datum.value % 1 == 0","value":-5},"value":-2.5},"title":null}}}},
{"data":{"name":"lb"},"transform":[{"filter":{"field":"w","range":[4800,5100]}}],"mark":{"type":"text","angle":270,"align":"right","baseline":"top","dy":3,"fontSize":11.5,"color":"#333"},"encoding":{"x":{"field":"w","type":"quantitative","scale":{"domain":[4800,5100],"nice":false,"zero":false},"axis":null},"y":{"datum":4.45,"type":"quantitative","scale":{"domain":[-1,5],"nice":false,"zero":false},"axis":null},"text":{"field":"n"}}}
]},
{"width":109,"height":167,"resolve":{"scale":{"x":"independent","y":"independent"}},"layer":[
{"data":{"values":[{}]},"mark":{"type":"rect","color":"#cccccc"},"encoding":{"x":{"datum":6500,"type":"quantitative","scale":{"domain":[6500,6600],"nice":false,"zero":false},"axis":null},"x2":{"datum":6600},"y":{"datum":-0.04,"type":"quantitative","scale":{"domain":[-1,5],"nice":false,"zero":false},"axis":null},"y2":{"datum":0.04}}},
{"data":{"name":"rl"},"transform":[{"filter":{"field":"w","range":[6500,6600]}}],"mark":{"type":"rule","color":"black","strokeDash":[1.5,1.5]},"encoding":{"x":{"field":"w","type":"quantitative","scale":{"domain":[6500,6600],"nice":false,"zero":false},"axis":null}}},
{"data":{"name":"m3"},"transform":[{"filter":{"field":"w","range":[6500,6600]}}],"mark":{"type":"line","interpolate":"step","color":"black","strokeWidth":1.2,"clip":true},"encoding":{"x":{"field":"w","type":"quantitative","scale":{"domain":[6500,6600],"nice":false,"zero":false},"axis":{"orient":"bottom","labelOverlap":false,"values":[6512.5,6525,6537.5,6550,6562.5,6575,6587.5,6600],"labelExpr":"datum.value % 50 == 0 ? '' + datum.value : ''","tickSize":{"condition":{"test":"datum.value % 50 == 0","value":-5},"value":-2.5},"title":null}},"y":{"field":"f","type":"quantitative","scale":{"domain":[-1,5],"nice":false,"zero":false},"axis":{"orient":"left","values":[-1,-0.8,-0.6,-0.4,-0.2,0,0.2,0.4,0.6,0.8,1,1.2,1.4,1.6,1.8,2,2.2,2.4,2.6,2.8,3,3.2,3.4,3.6,3.8,4,4.2,4.4,4.6,4.8,5],"labels":false,"tickSize":{"condition":{"test":"datum.value % 1 == 0","value":-5},"value":-2.5},"title":null}}}},
{"data":{"name":"m3"},"transform":[{"filter":{"field":"w","range":[6500,6600]}}],"mark":{"type":"point","opacity":0,"clip":true},"encoding":{"x":{"field":"w","type":"quantitative","scale":{"domain":[6500,6600],"nice":false,"zero":false},"axis":{"orient":"top","values":[6512.5,6525,6537.5,6550,6562.5,6575,6587.5],"labels":false,"tickSize":{"condition":{"test":"datum.value % 50 == 0","value":-5},"value":-2.5},"title":null}},"y":{"field":"f","type":"quantitative","scale":{"domain":[-1,5],"nice":false,"zero":false},"axis":{"orient":"right","values":[-1,-0.8,-0.6,-0.4,-0.2,0,0.2,0.4,0.6,0.8,1,1.2,1.4,1.6,1.8,2,2.2,2.4,2.6,2.8,3,3.2,3.4,3.6,3.8,4,4.2,4.4,4.6,4.8,5],"labels":false,"tickSize":{"condition":{"test":"datum.value % 1 == 0","value":-5},"value":-2.5},"title":null}}}},
{"data":{"name":"lb"},"transform":[{"filter":{"field":"w","range":[6500,6600]}}],"mark":{"type":"text","angle":270,"align":"right","baseline":"top","dy":3,"fontSize":11.5,"color":"#333"},"encoding":{"x":{"field":"w","type":"quantitative","scale":{"domain":[6500,6600],"nice":false,"zero":false},"axis":null},"y":{"datum":4.45,"type":"quantitative","scale":{"domain":[-1,5],"nice":false,"zero":false},"axis":null},"text":{"field":"n"}}}
]},
{"width":328,"height":167,"resolve":{"scale":{"x":"independent","y":"independent"}},"layer":[
{"data":{"values":[{}]},"mark":{"type":"rect","color":"#cccccc"},"encoding":{"x":{"datum":3600,"type":"quantitative","scale":{"domain":[3600,3900],"nice":false,"zero":false},"axis":null},"x2":{"datum":3900},"y":{"datum":-0.07,"type":"quantitative","scale":{"domain":[-1,5],"nice":false,"zero":false},"axis":null},"y2":{"datum":0.07}}},
{"data":{"name":"rl"},"transform":[{"filter":{"field":"w","range":[3600,3900]}}],"mark":{"type":"rule","color":"black","strokeDash":[1.5,1.5]},"encoding":{"x":{"field":"w","type":"quantitative","scale":{"domain":[3600,3900],"nice":false,"zero":false},"axis":null}}},
{"data":{"name":"m4"},"transform":[{"filter":{"field":"w","range":[3600,3900]}}],"mark":{"type":"line","interpolate":"step","color":"black","strokeWidth":1.2,"clip":true},"encoding":{"x":{"field":"w","type":"quantitative","scale":{"domain":[3600,3900],"nice":false,"zero":false},"axis":{"orient":"bottom","labelOverlap":false,"values":[3612.5,3625,3637.5,3650,3662.5,3675,3687.5,3700,3712.5,3725,3737.5,3750,3762.5,3775,3787.5,3800,3812.5,3825,3837.5,3850,3862.5,3875,3887.5],"labelExpr":"datum.value % 50 == 0 ? '' + datum.value : ''","tickSize":{"condition":{"test":"datum.value % 50 == 0","value":-5},"value":-2.5},"title":null}},"y":{"field":"f","type":"quantitative","scale":{"domain":[-1,5],"nice":false,"zero":false},"axis":{"orient":"left","values":[-1,0,1,2,3,4,5],"labels":false,"tickSize":-5,"title":"fλ (arbitrary unit)","titlePadding":22}}}},
{"data":{"name":"yl"},"mark":{"type":"text","align":"right","baseline":"middle","dx":-3,"fontSize":11,"color":"black"},"encoding":{"x":{"datum":3600,"type":"quantitative","scale":{"domain":[3600,3900],"nice":false,"zero":false},"axis":null},"y":{"field":"v","type":"quantitative","scale":{"domain":[-1,5],"nice":false,"zero":false},"axis":null},"text":{"field":"t"}}},
{"data":{"name":"m4"},"transform":[{"filter":{"field":"w","range":[3600,3900]}}],"mark":{"type":"point","opacity":0,"clip":true},"encoding":{"x":{"field":"w","type":"quantitative","scale":{"domain":[3600,3900],"nice":false,"zero":false},"axis":null},"y":{"field":"f","type":"quantitative","scale":{"domain":[-1,5],"nice":false,"zero":false},"axis":{"orient":"left","values":[-0.8,-0.6,-0.4,-0.2,0.2,0.4,0.6,0.8,1.2,1.4,1.6,1.8,2.2,2.4,2.6,2.8,3.2,3.4,3.6,3.8,4.2,4.4,4.6,4.8],"labels":false,"tickSize":-2.5,"title":null}}}},
{"data":{"name":"m4"},"transform":[{"filter":{"field":"w","range":[3600,3900]}}],"mark":{"type":"point","opacity":0,"clip":true},"encoding":{"x":{"field":"w","type":"quantitative","scale":{"domain":[3600,3900],"nice":false,"zero":false},"axis":{"orient":"top","values":[3612.5,3625,3637.5,3650,3662.5,3675,3687.5,3700,3712.5,3725,3737.5,3750,3762.5,3775,3787.5,3800,3812.5,3825,3837.5,3850,3862.5,3875,3887.5],"labels":false,"tickSize":{"condition":{"test":"datum.value % 50 == 0","value":-5},"value":-2.5},"title":null}},"y":{"field":"f","type":"quantitative","scale":{"domain":[-1,5],"nice":false,"zero":false},"axis":{"orient":"right","values":[-1,-0.8,-0.6,-0.4,-0.2,0,0.2,0.4,0.6,0.8,1,1.2,1.4,1.6,1.8,2,2.2,2.4,2.6,2.8,3,3.2,3.4,3.6,3.8,4,4.2,4.4,4.6,4.8,5],"labels":false,"tickSize":{"condition":{"test":"datum.value % 1 == 0","value":-5},"value":-2.5},"title":null}}}},
{"data":{"name":"lb"},"transform":[{"filter":{"field":"w","range":[3600,3800]}}],"mark":{"type":"text","angle":270,"align":"right","baseline":"top","dy":3,"fontSize":11.5,"color":"#333"},"encoding":{"x":{"field":"w","type":"quantitative","scale":{"domain":[3600,3900],"nice":false,"zero":false},"axis":null},"y":{"datum":4.45,"type":"quantitative","scale":{"domain":[-1,5],"nice":false,"zero":false},"axis":null},"text":{"field":"n"}}},
{"data":{"name":"lb"},"transform":[{"filter":{"field":"w","range":[3800,3900]}}],"mark":{"type":"text","angle":270,"align":"right","baseline":"top","dy":3,"fontSize":11.5,"color":"#333"},"encoding":{"x":{"field":"w","type":"quantitative","scale":{"domain":[3600,3900],"nice":false,"zero":false},"axis":null},"y":{"datum":4.85,"type":"quantitative","scale":{"domain":[-1,5],"nice":false,"zero":false},"axis":null},"text":{"field":"n"}}},
{"data":{"values":[{}]},"mark":{"type":"text","text":["[OIII]λ5007 EW","= 0 − 225Å"],"align":"left","baseline":"top","fontWeight":"bold","fontSize":13,"lineHeight":16},"encoding":{"x":{"datum":3610,"type":"quantitative","scale":{"domain":[3600,3900],"nice":false,"zero":false},"axis":null},"y":{"datum":4.72,"type":"quantitative","scale":{"domain":[-1,5],"nice":false,"zero":false},"axis":null}}},
{"data":{"values":[{}]},"mark":{"type":"rect","fill":"white","stroke":"#333","strokeWidth":1},"encoding":{"x":{"datum":3700,"type":"quantitative","scale":{"domain":[3700,3750],"range":[176,226],"nice":false,"zero":false},"axis":null},"x2":{"datum":3750},"y":{"datum":-0.45,"type":"quantitative","scale":{"domain":[-0.45,2.2],"range":[108,8],"nice":false,"zero":false},"axis":null},"y2":{"datum":2.2}}},
{"data":{"values":[{}]},"mark":{"type":"rect","color":"#cccccc"},"encoding":{"x":{"datum":3700,"type":"quantitative","scale":{"domain":[3700,3750],"range":[176,226],"nice":false,"zero":false},"axis":null},"x2":{"datum":3750},"y":{"datum":-0.07,"type":"quantitative","scale":{"domain":[-0.45,2.2],"range":[108,8],"nice":false,"zero":false},"axis":null},"y2":{"datum":0.07}}},
{"data":{"name":"rl"},"transform":[{"filter":{"field":"w","range":[3700,3750]}}],"mark":{"type":"rule","color":"black","strokeDash":[1.5,1.5]},"encoding":{"x":{"field":"w","type":"quantitative","scale":{"domain":[3700,3750],"range":[176,226],"nice":false,"zero":false},"axis":null},"y":{"datum":-0.45,"type":"quantitative","scale":{"domain":[-0.45,2.2],"range":[108,8],"nice":false,"zero":false},"axis":null},"y2":{"datum":2.2}}},
{"data":{"name":"i4"},"transform":[{"filter":{"field":"w","range":[3700,3750]}}],"mark":{"type":"line","interpolate":"step","color":"black","strokeWidth":1},"encoding":{"x":{"field":"w","type":"quantitative","scale":{"domain":[3700,3750],"range":[176,226],"nice":false,"zero":false},"axis":{"orient":"bottom","offset":-59,"labelOverlap":false,"values":[3700,3710,3720,3730,3740],"labelExpr":"datum.value == 3700 || datum.value == 3730 ? '' + datum.value : ''","tickSize":-3,"labelFontSize":9.5,"title":null}},"y":{"field":"f","type":"quantitative","scale":{"domain":[-0.45,2.2],"range":[108,8],"nice":false,"zero":false,"clamp":true},"axis":{"orient":"left","offset":-176,"labelOverlap":false,"values":[0,0.4,0.8,1.2,1.6],"format":".1f","tickSize":-3,"labelFontSize":9.5,"title":null}}}},
{"data":{"name":"lb"},"transform":[{"filter":{"field":"w","range":[3700,3750]}}],"mark":{"type":"text","angle":270,"align":"right","baseline":"top","dy":3,"fontSize":9,"color":"#333"},"encoding":{"x":{"field":"w","type":"quantitative","scale":{"domain":[3700,3750],"range":[176,226],"nice":false,"zero":false},"axis":null},"y":{"datum":1.94,"type":"quantitative","scale":{"domain":[-0.45,2.2],"range":[108,8],"nice":false,"zero":false},"axis":null},"text":{"field":"n"}}},
{"data":{"values":[{}]},"mark":{"type":"rect","fill":"white","stroke":"#333","strokeWidth":1},"encoding":{"x":{"datum":3850,"type":"quantitative","scale":{"domain":[3850,3900],"range":[235,285],"nice":false,"zero":false},"axis":null},"x2":{"datum":3900},"y":{"datum":-0.45,"type":"quantitative","scale":{"domain":[-0.45,2.2],"range":[108,8],"nice":false,"zero":false},"axis":null},"y2":{"datum":2.2}}},
{"data":{"values":[{}]},"mark":{"type":"rect","color":"#cccccc"},"encoding":{"x":{"datum":3850,"type":"quantitative","scale":{"domain":[3850,3900],"range":[235,285],"nice":false,"zero":false},"axis":null},"x2":{"datum":3900},"y":{"datum":-0.07,"type":"quantitative","scale":{"domain":[-0.45,2.2],"range":[108,8],"nice":false,"zero":false},"axis":null},"y2":{"datum":0.07}}},
{"data":{"name":"rl"},"transform":[{"filter":{"field":"w","range":[3850,3900]}}],"mark":{"type":"rule","color":"black","strokeDash":[1.5,1.5]},"encoding":{"x":{"field":"w","type":"quantitative","scale":{"domain":[3850,3900],"range":[235,285],"nice":false,"zero":false},"axis":null},"y":{"datum":-0.45,"type":"quantitative","scale":{"domain":[-0.45,2.2],"range":[108,8],"nice":false,"zero":false},"axis":null},"y2":{"datum":2.2}}},
{"data":{"name":"i4"},"transform":[{"filter":{"field":"w","range":[3850,3900]}}],"mark":{"type":"line","interpolate":"step","color":"black","strokeWidth":1},"encoding":{"x":{"field":"w","type":"quantitative","scale":{"domain":[3850,3900],"range":[235,285],"nice":false,"zero":false},"axis":{"orient":"bottom","offset":-59,"labelOverlap":false,"values":[3850,3860,3870,3880,3890],"labelExpr":"datum.value == 3850 || datum.value == 3880 ? '' + datum.value : ''","tickSize":-3,"labelFontSize":9.5,"title":null}},"y":{"field":"f","type":"quantitative","scale":{"domain":[-0.45,2.2],"range":[108,8],"nice":false,"zero":false,"clamp":true},"axis":{"orient":"left","offset":-235,"values":[0,0.4,0.8,1.2,1.6],"labels":false,"tickSize":-3,"title":null}}}},
{"data":{"name":"lb"},"transform":[{"filter":{"field":"w","range":[3850,3900]}}],"mark":{"type":"text","angle":270,"align":"right","baseline":"top","dy":3,"fontSize":9,"color":"#333"},"encoding":{"x":{"field":"w","type":"quantitative","scale":{"domain":[3850,3900],"range":[235,285],"nice":false,"zero":false},"axis":null},"y":{"datum":1.94,"type":"quantitative","scale":{"domain":[-0.45,2.2],"range":[108,8],"nice":false,"zero":false},"axis":null},"text":{"field":"n"}}}
]},
{"width":327,"height":167,"resolve":{"scale":{"x":"independent","y":"independent"}},"layer":[
{"data":{"values":[{}]},"mark":{"type":"rect","color":"#cccccc"},"encoding":{"x":{"datum":4800,"type":"quantitative","scale":{"domain":[4800,5100],"nice":false,"zero":false},"axis":null},"x2":{"datum":5100},"y":{"datum":-0.07,"type":"quantitative","scale":{"domain":[-1,5],"nice":false,"zero":false},"axis":null},"y2":{"datum":0.07}}},
{"data":{"name":"rl"},"transform":[{"filter":{"field":"w","range":[4800,5100]}}],"mark":{"type":"rule","color":"black","strokeDash":[1.5,1.5]},"encoding":{"x":{"field":"w","type":"quantitative","scale":{"domain":[4800,5100],"nice":false,"zero":false},"axis":null}}},
{"data":{"name":"m4"},"transform":[{"filter":{"field":"w","range":[4800,5100]}}],"mark":{"type":"line","interpolate":"step","color":"black","strokeWidth":1.2,"clip":true},"encoding":{"x":{"field":"w","type":"quantitative","scale":{"domain":[4800,5100],"nice":false,"zero":false},"axis":{"orient":"bottom","labelOverlap":false,"values":[4812.5,4825,4837.5,4850,4862.5,4875,4887.5,4900,4912.5,4925,4937.5,4950,4962.5,4975,4987.5,5000,5012.5,5025,5037.5,5050,5062.5,5075,5087.5],"labelExpr":"datum.value % 50 == 0 ? '' + datum.value : ''","tickSize":{"condition":{"test":"datum.value % 50 == 0","value":-5},"value":-2.5},"title":"rest-frame wavelength (Å)","titlePadding":2}},"y":{"field":"f","type":"quantitative","scale":{"domain":[-1,5],"nice":false,"zero":false},"axis":{"orient":"left","values":[-1,-0.8,-0.6,-0.4,-0.2,0,0.2,0.4,0.6,0.8,1,1.2,1.4,1.6,1.8,2,2.2,2.4,2.6,2.8,3,3.2,3.4,3.6,3.8,4,4.2,4.4,4.6,4.8,5],"labels":false,"tickSize":{"condition":{"test":"datum.value % 1 == 0","value":-5},"value":-2.5},"title":null}}}},
{"data":{"name":"m4"},"transform":[{"filter":{"field":"w","range":[4800,5100]}}],"mark":{"type":"point","opacity":0,"clip":true},"encoding":{"x":{"field":"w","type":"quantitative","scale":{"domain":[4800,5100],"nice":false,"zero":false},"axis":{"orient":"top","values":[4812.5,4825,4837.5,4850,4862.5,4875,4887.5,4900,4912.5,4925,4937.5,4950,4962.5,4975,4987.5,5000,5012.5,5025,5037.5,5050,5062.5,5075,5087.5],"labels":false,"tickSize":{"condition":{"test":"datum.value % 50 == 0","value":-5},"value":-2.5},"title":null}},"y":{"field":"f","type":"quantitative","scale":{"domain":[-1,5],"nice":false,"zero":false},"axis":{"orient":"right","values":[-1,-0.8,-0.6,-0.4,-0.2,0,0.2,0.4,0.6,0.8,1,1.2,1.4,1.6,1.8,2,2.2,2.4,2.6,2.8,3,3.2,3.4,3.6,3.8,4,4.2,4.4,4.6,4.8,5],"labels":false,"tickSize":{"condition":{"test":"datum.value % 1 == 0","value":-5},"value":-2.5},"title":null}}}},
{"data":{"name":"lb"},"transform":[{"filter":{"field":"w","range":[4800,5100]}}],"mark":{"type":"text","angle":270,"align":"right","baseline":"top","dy":3,"fontSize":11.5,"color":"#333"},"encoding":{"x":{"field":"w","type":"quantitative","scale":{"domain":[4800,5100],"nice":false,"zero":false},"axis":null},"y":{"datum":4.45,"type":"quantitative","scale":{"domain":[-1,5],"nice":false,"zero":false},"axis":null},"text":{"field":"n"}}}
]},
{"width":109,"height":167,"resolve":{"scale":{"x":"independent","y":"independent"}},"layer":[
{"data":{"values":[{}]},"mark":{"type":"rect","color":"#cccccc"},"encoding":{"x":{"datum":6500,"type":"quantitative","scale":{"domain":[6500,6600],"nice":false,"zero":false},"axis":null},"x2":{"datum":6600},"y":{"datum":-0.07,"type":"quantitative","scale":{"domain":[-1,5],"nice":false,"zero":false},"axis":null},"y2":{"datum":0.07}}},
{"data":{"name":"rl"},"transform":[{"filter":{"field":"w","range":[6500,6600]}}],"mark":{"type":"rule","color":"black","strokeDash":[1.5,1.5]},"encoding":{"x":{"field":"w","type":"quantitative","scale":{"domain":[6500,6600],"nice":false,"zero":false},"axis":null}}},
{"data":{"name":"m4"},"transform":[{"filter":{"field":"w","range":[6500,6600]}}],"mark":{"type":"line","interpolate":"step","color":"black","strokeWidth":1.2,"clip":true},"encoding":{"x":{"field":"w","type":"quantitative","scale":{"domain":[6500,6600],"nice":false,"zero":false},"axis":{"orient":"bottom","labelOverlap":false,"values":[6512.5,6525,6537.5,6550,6562.5,6575,6587.5,6600],"labelExpr":"datum.value % 50 == 0 ? '' + datum.value : ''","tickSize":{"condition":{"test":"datum.value % 50 == 0","value":-5},"value":-2.5},"title":null}},"y":{"field":"f","type":"quantitative","scale":{"domain":[-1,5],"nice":false,"zero":false},"axis":{"orient":"left","values":[-1,-0.8,-0.6,-0.4,-0.2,0,0.2,0.4,0.6,0.8,1,1.2,1.4,1.6,1.8,2,2.2,2.4,2.6,2.8,3,3.2,3.4,3.6,3.8,4,4.2,4.4,4.6,4.8,5],"labels":false,"tickSize":{"condition":{"test":"datum.value % 1 == 0","value":-5},"value":-2.5},"title":null}}}},
{"data":{"name":"m4"},"transform":[{"filter":{"field":"w","range":[6500,6600]}}],"mark":{"type":"point","opacity":0,"clip":true},"encoding":{"x":{"field":"w","type":"quantitative","scale":{"domain":[6500,6600],"nice":false,"zero":false},"axis":{"orient":"top","values":[6512.5,6525,6537.5,6550,6562.5,6575,6587.5],"labels":false,"tickSize":{"condition":{"test":"datum.value % 50 == 0","value":-5},"value":-2.5},"title":null}},"y":{"field":"f","type":"quantitative","scale":{"domain":[-1,5],"nice":false,"zero":false},"axis":{"orient":"right","values":[-1,-0.8,-0.6,-0.4,-0.2,0,0.2,0.4,0.6,0.8,1,1.2,1.4,1.6,1.8,2,2.2,2.4,2.6,2.8,3,3.2,3.4,3.6,3.8,4,4.2,4.4,4.6,4.8,5],"labels":false,"tickSize":{"condition":{"test":"datum.value % 1 == 0","value":-5},"value":-2.5},"title":null}}}},
{"data":{"name":"lb"},"transform":[{"filter":{"field":"w","range":[6500,6600]}}],"mark":{"type":"text","angle":270,"align":"right","baseline":"top","dy":3,"fontSize":11.5,"color":"#333"},"encoding":{"x":{"field":"w","type":"quantitative","scale":{"domain":[6500,6600],"nice":false,"zero":false},"axis":null},"y":{"datum":4.45,"type":"quantitative","scale":{"domain":[-1,5],"nice":false,"zero":false},"axis":null},"text":{"field":"n"}}}
]}
]
}
